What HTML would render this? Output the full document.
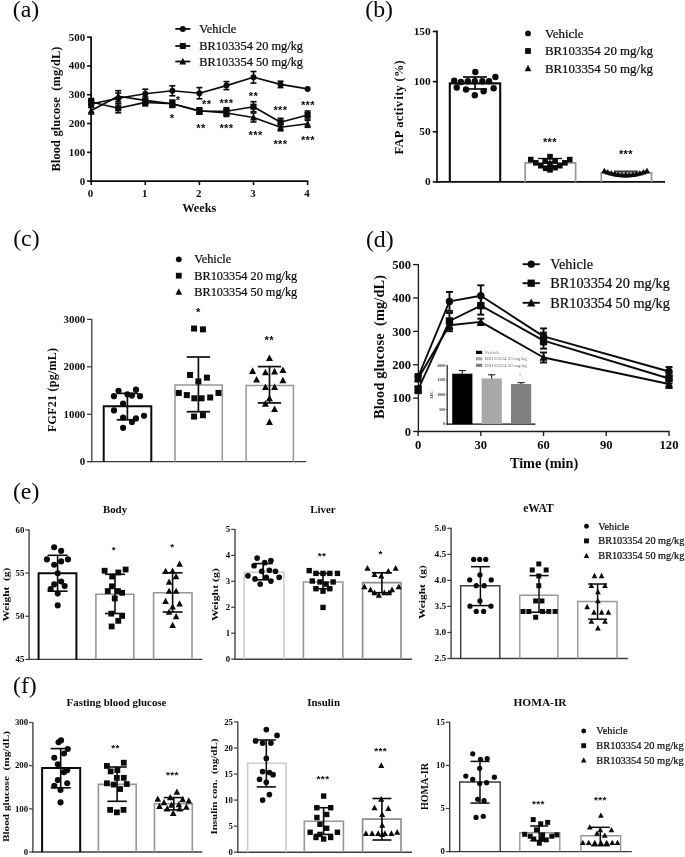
<!DOCTYPE html>
<html lang="en">
<head>
<meta charset="utf-8">
<title>Figure</title>
<style>
html,body{margin:0;padding:0;background:#ffffff;}
body{width:685px;height:857px;overflow:hidden;font-family:"Liberation Serif",serif;}
svg{display:block;font-family:"Liberation Serif",serif;filter:blur(0.45px);}
svg text{fill:#0b0b0b;}
</style>
</head>
<body>
<svg width="685" height="857" viewBox="0 0 685 857">
<rect x="0" y="0" width="685" height="857" fill="#ffffff"/>
<text x="12.8" y="17.24" font-size="23.8">(a)</text>
<text x="365.3" y="16.74" font-size="23.8">(b)</text>
<text x="13.2" y="246.24" font-size="23.8">(c)</text>
<text x="365.9" y="246.74" font-size="23.8">(d)</text>
<text x="12.9" y="498.54" font-size="23.8">(e)</text>
<text x="13" y="692.84" font-size="23.8">(f)</text>
<line x1="91.1" y1="36.4" x2="91.1" y2="182" stroke="#0b0b0b" stroke-width="1.75" stroke-linecap="butt"/>
<line x1="90.3" y1="181.1" x2="308.4" y2="181.1" stroke="#0b0b0b" stroke-width="1.8" stroke-linecap="butt"/>
<line x1="87.1" y1="181.1" x2="91.1" y2="181.1" stroke="#0b0b0b" stroke-width="1.6" stroke-linecap="butt"/>
<text x="85.1" y="184.5" font-size="10.9" font-weight="bold" text-anchor="end">0</text>
<line x1="87.1" y1="152.32" x2="91.1" y2="152.32" stroke="#0b0b0b" stroke-width="1.6" stroke-linecap="butt"/>
<text x="85.1" y="155.72" font-size="10.9" font-weight="bold" text-anchor="end">100</text>
<line x1="87.1" y1="123.54" x2="91.1" y2="123.54" stroke="#0b0b0b" stroke-width="1.6" stroke-linecap="butt"/>
<text x="85.1" y="126.94" font-size="10.9" font-weight="bold" text-anchor="end">200</text>
<line x1="87.1" y1="94.76" x2="91.1" y2="94.76" stroke="#0b0b0b" stroke-width="1.6" stroke-linecap="butt"/>
<text x="85.1" y="98.16" font-size="10.9" font-weight="bold" text-anchor="end">300</text>
<line x1="87.1" y1="65.98" x2="91.1" y2="65.98" stroke="#0b0b0b" stroke-width="1.6" stroke-linecap="butt"/>
<text x="85.1" y="69.38" font-size="10.9" font-weight="bold" text-anchor="end">400</text>
<line x1="87.1" y1="37.2" x2="91.1" y2="37.2" stroke="#0b0b0b" stroke-width="1.6" stroke-linecap="butt"/>
<text x="85.1" y="40.6" font-size="10.9" font-weight="bold" text-anchor="end">500</text>
<line x1="91.2" y1="181.1" x2="91.2" y2="185.1" stroke="#0b0b0b" stroke-width="1.6" stroke-linecap="butt"/>
<text x="90.6" y="196.6" font-size="10.9" font-weight="bold" text-anchor="middle">0</text>
<line x1="145.3" y1="181.1" x2="145.3" y2="185.1" stroke="#0b0b0b" stroke-width="1.6" stroke-linecap="butt"/>
<text x="144.7" y="196.6" font-size="10.9" font-weight="bold" text-anchor="middle">1</text>
<line x1="199.4" y1="181.1" x2="199.4" y2="185.1" stroke="#0b0b0b" stroke-width="1.6" stroke-linecap="butt"/>
<text x="198.8" y="196.6" font-size="10.9" font-weight="bold" text-anchor="middle">2</text>
<line x1="253.5" y1="181.1" x2="253.5" y2="185.1" stroke="#0b0b0b" stroke-width="1.6" stroke-linecap="butt"/>
<text x="252.9" y="196.6" font-size="10.9" font-weight="bold" text-anchor="middle">3</text>
<line x1="307.6" y1="181.1" x2="307.6" y2="185.1" stroke="#0b0b0b" stroke-width="1.6" stroke-linecap="butt"/>
<text x="307" y="196.6" font-size="10.9" font-weight="bold" text-anchor="middle">4</text>
<text x="199.3" y="212.36" font-size="12.3" font-weight="bold" text-anchor="middle">Weeks</text>
<text transform="translate(56.4 109) rotate(-90)" x="0" y="4.09" font-size="12.4" font-weight="bold" text-anchor="middle" textLength="125" lengthAdjust="spacing">Blood glucose &#160;(mg/dL)</text>
<polyline points="91.2,104 118.25,98.3 145.3,93.8 172.35,90.8 199.4,93.2 226.45,85.6 253.5,77.3 280.55,84.4 307.6,88.9" fill="none" stroke="#0b0b0b" stroke-width="1.65" stroke-linejoin="round"/>
<line x1="91.2" y1="100.5" x2="91.2" y2="107.5" stroke="#0b0b0b" stroke-width="1.6" stroke-linecap="butt"/>
<line x1="88.2" y1="100.5" x2="94.2" y2="100.5" stroke="#0b0b0b" stroke-width="1.6" stroke-linecap="butt"/>
<line x1="88.2" y1="107.5" x2="94.2" y2="107.5" stroke="#0b0b0b" stroke-width="1.6" stroke-linecap="butt"/>
<circle cx="91.2" cy="104" r="3" fill="#0b0b0b"/>
<line x1="118.25" y1="93.1" x2="118.25" y2="103.5" stroke="#0b0b0b" stroke-width="1.6" stroke-linecap="butt"/>
<line x1="115.25" y1="93.1" x2="121.25" y2="93.1" stroke="#0b0b0b" stroke-width="1.6" stroke-linecap="butt"/>
<line x1="115.25" y1="103.5" x2="121.25" y2="103.5" stroke="#0b0b0b" stroke-width="1.6" stroke-linecap="butt"/>
<circle cx="118.25" cy="98.3" r="3" fill="#0b0b0b"/>
<line x1="145.3" y1="89.2" x2="145.3" y2="98.4" stroke="#0b0b0b" stroke-width="1.6" stroke-linecap="butt"/>
<line x1="142.3" y1="89.2" x2="148.3" y2="89.2" stroke="#0b0b0b" stroke-width="1.6" stroke-linecap="butt"/>
<line x1="142.3" y1="98.4" x2="148.3" y2="98.4" stroke="#0b0b0b" stroke-width="1.6" stroke-linecap="butt"/>
<circle cx="145.3" cy="93.8" r="3" fill="#0b0b0b"/>
<line x1="172.35" y1="85.8" x2="172.35" y2="95.8" stroke="#0b0b0b" stroke-width="1.6" stroke-linecap="butt"/>
<line x1="169.35" y1="85.8" x2="175.35" y2="85.8" stroke="#0b0b0b" stroke-width="1.6" stroke-linecap="butt"/>
<line x1="169.35" y1="95.8" x2="175.35" y2="95.8" stroke="#0b0b0b" stroke-width="1.6" stroke-linecap="butt"/>
<circle cx="172.35" cy="90.8" r="3" fill="#0b0b0b"/>
<line x1="199.4" y1="87.6" x2="199.4" y2="98.8" stroke="#0b0b0b" stroke-width="1.6" stroke-linecap="butt"/>
<line x1="196.4" y1="87.6" x2="202.4" y2="87.6" stroke="#0b0b0b" stroke-width="1.6" stroke-linecap="butt"/>
<line x1="196.4" y1="98.8" x2="202.4" y2="98.8" stroke="#0b0b0b" stroke-width="1.6" stroke-linecap="butt"/>
<circle cx="199.4" cy="93.2" r="3" fill="#0b0b0b"/>
<line x1="226.45" y1="81.6" x2="226.45" y2="89.6" stroke="#0b0b0b" stroke-width="1.6" stroke-linecap="butt"/>
<line x1="223.45" y1="81.6" x2="229.45" y2="81.6" stroke="#0b0b0b" stroke-width="1.6" stroke-linecap="butt"/>
<line x1="223.45" y1="89.6" x2="229.45" y2="89.6" stroke="#0b0b0b" stroke-width="1.6" stroke-linecap="butt"/>
<circle cx="226.45" cy="85.6" r="3" fill="#0b0b0b"/>
<line x1="253.5" y1="71.5" x2="253.5" y2="83.1" stroke="#0b0b0b" stroke-width="1.6" stroke-linecap="butt"/>
<line x1="250.5" y1="71.5" x2="256.5" y2="71.5" stroke="#0b0b0b" stroke-width="1.6" stroke-linecap="butt"/>
<line x1="250.5" y1="83.1" x2="256.5" y2="83.1" stroke="#0b0b0b" stroke-width="1.6" stroke-linecap="butt"/>
<circle cx="253.5" cy="77.3" r="3" fill="#0b0b0b"/>
<line x1="280.55" y1="81.2" x2="280.55" y2="87.6" stroke="#0b0b0b" stroke-width="1.6" stroke-linecap="butt"/>
<line x1="277.55" y1="81.2" x2="283.55" y2="81.2" stroke="#0b0b0b" stroke-width="1.6" stroke-linecap="butt"/>
<line x1="277.55" y1="87.6" x2="283.55" y2="87.6" stroke="#0b0b0b" stroke-width="1.6" stroke-linecap="butt"/>
<circle cx="280.55" cy="84.4" r="3" fill="#0b0b0b"/>
<circle cx="307.6" cy="88.9" r="3" fill="#0b0b0b"/>
<polyline points="91.2,102 118.25,108.3 145.3,102.4 172.35,103.8 199.4,111.2 226.45,111.2 253.5,106.7 280.55,122.3 307.6,115" fill="none" stroke="#0b0b0b" stroke-width="1.65" stroke-linejoin="round"/>
<line x1="91.2" y1="98.5" x2="91.2" y2="105.5" stroke="#0b0b0b" stroke-width="1.6" stroke-linecap="butt"/>
<line x1="88.2" y1="98.5" x2="94.2" y2="98.5" stroke="#0b0b0b" stroke-width="1.6" stroke-linecap="butt"/>
<line x1="88.2" y1="105.5" x2="94.2" y2="105.5" stroke="#0b0b0b" stroke-width="1.6" stroke-linecap="butt"/>
<rect x="88.1" y="98.9" width="6.2" height="6.2" fill="#0b0b0b"/>
<line x1="118.25" y1="103.8" x2="118.25" y2="112.8" stroke="#0b0b0b" stroke-width="1.6" stroke-linecap="butt"/>
<line x1="115.25" y1="103.8" x2="121.25" y2="103.8" stroke="#0b0b0b" stroke-width="1.6" stroke-linecap="butt"/>
<line x1="115.25" y1="112.8" x2="121.25" y2="112.8" stroke="#0b0b0b" stroke-width="1.6" stroke-linecap="butt"/>
<rect x="115.15" y="105.2" width="6.2" height="6.2" fill="#0b0b0b"/>
<line x1="145.3" y1="98.9" x2="145.3" y2="105.9" stroke="#0b0b0b" stroke-width="1.6" stroke-linecap="butt"/>
<line x1="142.3" y1="98.9" x2="148.3" y2="98.9" stroke="#0b0b0b" stroke-width="1.6" stroke-linecap="butt"/>
<line x1="142.3" y1="105.9" x2="148.3" y2="105.9" stroke="#0b0b0b" stroke-width="1.6" stroke-linecap="butt"/>
<rect x="142.2" y="99.3" width="6.2" height="6.2" fill="#0b0b0b"/>
<line x1="172.35" y1="100.3" x2="172.35" y2="107.3" stroke="#0b0b0b" stroke-width="1.6" stroke-linecap="butt"/>
<line x1="169.35" y1="100.3" x2="175.35" y2="100.3" stroke="#0b0b0b" stroke-width="1.6" stroke-linecap="butt"/>
<line x1="169.35" y1="107.3" x2="175.35" y2="107.3" stroke="#0b0b0b" stroke-width="1.6" stroke-linecap="butt"/>
<rect x="169.25" y="100.7" width="6.2" height="6.2" fill="#0b0b0b"/>
<line x1="199.4" y1="108.2" x2="199.4" y2="114.2" stroke="#0b0b0b" stroke-width="1.6" stroke-linecap="butt"/>
<line x1="196.4" y1="108.2" x2="202.4" y2="108.2" stroke="#0b0b0b" stroke-width="1.6" stroke-linecap="butt"/>
<line x1="196.4" y1="114.2" x2="202.4" y2="114.2" stroke="#0b0b0b" stroke-width="1.6" stroke-linecap="butt"/>
<rect x="196.3" y="108.1" width="6.2" height="6.2" fill="#0b0b0b"/>
<line x1="226.45" y1="107.7" x2="226.45" y2="114.7" stroke="#0b0b0b" stroke-width="1.6" stroke-linecap="butt"/>
<line x1="223.45" y1="107.7" x2="229.45" y2="107.7" stroke="#0b0b0b" stroke-width="1.6" stroke-linecap="butt"/>
<line x1="223.45" y1="114.7" x2="229.45" y2="114.7" stroke="#0b0b0b" stroke-width="1.6" stroke-linecap="butt"/>
<rect x="223.35" y="108.1" width="6.2" height="6.2" fill="#0b0b0b"/>
<line x1="253.5" y1="101.7" x2="253.5" y2="111.7" stroke="#0b0b0b" stroke-width="1.6" stroke-linecap="butt"/>
<line x1="250.5" y1="101.7" x2="256.5" y2="101.7" stroke="#0b0b0b" stroke-width="1.6" stroke-linecap="butt"/>
<line x1="250.5" y1="111.7" x2="256.5" y2="111.7" stroke="#0b0b0b" stroke-width="1.6" stroke-linecap="butt"/>
<rect x="250.4" y="103.6" width="6.2" height="6.2" fill="#0b0b0b"/>
<line x1="280.55" y1="118.3" x2="280.55" y2="126.3" stroke="#0b0b0b" stroke-width="1.6" stroke-linecap="butt"/>
<line x1="277.55" y1="118.3" x2="283.55" y2="118.3" stroke="#0b0b0b" stroke-width="1.6" stroke-linecap="butt"/>
<line x1="277.55" y1="126.3" x2="283.55" y2="126.3" stroke="#0b0b0b" stroke-width="1.6" stroke-linecap="butt"/>
<rect x="277.45" y="119.2" width="6.2" height="6.2" fill="#0b0b0b"/>
<line x1="307.6" y1="111" x2="307.6" y2="119" stroke="#0b0b0b" stroke-width="1.6" stroke-linecap="butt"/>
<line x1="304.6" y1="111" x2="310.6" y2="111" stroke="#0b0b0b" stroke-width="1.6" stroke-linecap="butt"/>
<line x1="304.6" y1="119" x2="310.6" y2="119" stroke="#0b0b0b" stroke-width="1.6" stroke-linecap="butt"/>
<rect x="304.5" y="111.9" width="6.2" height="6.2" fill="#0b0b0b"/>
<polyline points="91.2,110.5 118.25,96.2 145.3,100.4 172.35,103.8 199.4,110.8 226.45,113 253.5,117.5 280.55,127.3 307.6,123.8" fill="none" stroke="#0b0b0b" stroke-width="1.65" stroke-linejoin="round"/>
<line x1="91.2" y1="107" x2="91.2" y2="114" stroke="#0b0b0b" stroke-width="1.6" stroke-linecap="butt"/>
<line x1="88.2" y1="107" x2="94.2" y2="107" stroke="#0b0b0b" stroke-width="1.6" stroke-linecap="butt"/>
<line x1="88.2" y1="114" x2="94.2" y2="114" stroke="#0b0b0b" stroke-width="1.6" stroke-linecap="butt"/>
<path d="M91.2 106.87L94.7 113.47L87.7 113.47Z" fill="#0b0b0b"/>
<line x1="118.25" y1="90.7" x2="118.25" y2="101.7" stroke="#0b0b0b" stroke-width="1.6" stroke-linecap="butt"/>
<line x1="115.25" y1="90.7" x2="121.25" y2="90.7" stroke="#0b0b0b" stroke-width="1.6" stroke-linecap="butt"/>
<line x1="115.25" y1="101.7" x2="121.25" y2="101.7" stroke="#0b0b0b" stroke-width="1.6" stroke-linecap="butt"/>
<path d="M118.25 92.57L121.75 99.17L114.75 99.17Z" fill="#0b0b0b"/>
<line x1="145.3" y1="96.9" x2="145.3" y2="103.9" stroke="#0b0b0b" stroke-width="1.6" stroke-linecap="butt"/>
<line x1="142.3" y1="96.9" x2="148.3" y2="96.9" stroke="#0b0b0b" stroke-width="1.6" stroke-linecap="butt"/>
<line x1="142.3" y1="103.9" x2="148.3" y2="103.9" stroke="#0b0b0b" stroke-width="1.6" stroke-linecap="butt"/>
<path d="M145.3 96.77L148.8 103.37L141.8 103.37Z" fill="#0b0b0b"/>
<line x1="172.35" y1="100.3" x2="172.35" y2="107.3" stroke="#0b0b0b" stroke-width="1.6" stroke-linecap="butt"/>
<line x1="169.35" y1="100.3" x2="175.35" y2="100.3" stroke="#0b0b0b" stroke-width="1.6" stroke-linecap="butt"/>
<line x1="169.35" y1="107.3" x2="175.35" y2="107.3" stroke="#0b0b0b" stroke-width="1.6" stroke-linecap="butt"/>
<path d="M172.35 100.17L175.85 106.77L168.85 106.77Z" fill="#0b0b0b"/>
<line x1="199.4" y1="107.8" x2="199.4" y2="113.8" stroke="#0b0b0b" stroke-width="1.6" stroke-linecap="butt"/>
<line x1="196.4" y1="107.8" x2="202.4" y2="107.8" stroke="#0b0b0b" stroke-width="1.6" stroke-linecap="butt"/>
<line x1="196.4" y1="113.8" x2="202.4" y2="113.8" stroke="#0b0b0b" stroke-width="1.6" stroke-linecap="butt"/>
<path d="M199.4 107.17L202.9 113.77L195.9 113.77Z" fill="#0b0b0b"/>
<line x1="226.45" y1="109.5" x2="226.45" y2="116.5" stroke="#0b0b0b" stroke-width="1.6" stroke-linecap="butt"/>
<line x1="223.45" y1="109.5" x2="229.45" y2="109.5" stroke="#0b0b0b" stroke-width="1.6" stroke-linecap="butt"/>
<line x1="223.45" y1="116.5" x2="229.45" y2="116.5" stroke="#0b0b0b" stroke-width="1.6" stroke-linecap="butt"/>
<path d="M226.45 109.37L229.95 115.97L222.95 115.97Z" fill="#0b0b0b"/>
<line x1="253.5" y1="113" x2="253.5" y2="122" stroke="#0b0b0b" stroke-width="1.6" stroke-linecap="butt"/>
<line x1="250.5" y1="113" x2="256.5" y2="113" stroke="#0b0b0b" stroke-width="1.6" stroke-linecap="butt"/>
<line x1="250.5" y1="122" x2="256.5" y2="122" stroke="#0b0b0b" stroke-width="1.6" stroke-linecap="butt"/>
<path d="M253.5 113.87L257 120.47L250 120.47Z" fill="#0b0b0b"/>
<line x1="280.55" y1="123.8" x2="280.55" y2="130.8" stroke="#0b0b0b" stroke-width="1.6" stroke-linecap="butt"/>
<line x1="277.55" y1="123.8" x2="283.55" y2="123.8" stroke="#0b0b0b" stroke-width="1.6" stroke-linecap="butt"/>
<line x1="277.55" y1="130.8" x2="283.55" y2="130.8" stroke="#0b0b0b" stroke-width="1.6" stroke-linecap="butt"/>
<path d="M280.55 123.67L284.05 130.27L277.05 130.27Z" fill="#0b0b0b"/>
<line x1="307.6" y1="120.3" x2="307.6" y2="127.3" stroke="#0b0b0b" stroke-width="1.6" stroke-linecap="butt"/>
<line x1="304.6" y1="120.3" x2="310.6" y2="120.3" stroke="#0b0b0b" stroke-width="1.6" stroke-linecap="butt"/>
<line x1="304.6" y1="127.3" x2="310.6" y2="127.3" stroke="#0b0b0b" stroke-width="1.6" stroke-linecap="butt"/>
<path d="M307.6 120.17L311.1 126.77L304.1 126.77Z" fill="#0b0b0b"/>
<text x="178" y="104.01" font-family="Liberation Sans, sans-serif" font-size="11.14" font-weight="bold" text-anchor="middle" letter-spacing="0.4">*</text>
<text x="172" y="122.11" font-family="Liberation Sans, sans-serif" font-size="11.14" font-weight="bold" text-anchor="middle" letter-spacing="0.4">*</text>
<text x="206.7" y="108.31" font-family="Liberation Sans, sans-serif" font-size="11.14" font-weight="bold" text-anchor="middle" letter-spacing="0.4">**</text>
<text x="201" y="132.11" font-family="Liberation Sans, sans-serif" font-size="11.14" font-weight="bold" text-anchor="middle" letter-spacing="0.4">**</text>
<text x="226.5" y="106.51" font-family="Liberation Sans, sans-serif" font-size="11.14" font-weight="bold" text-anchor="middle" letter-spacing="0.4">***</text>
<text x="226.5" y="131.61" font-family="Liberation Sans, sans-serif" font-size="11.14" font-weight="bold" text-anchor="middle" letter-spacing="0.4">***</text>
<text x="253.6" y="99.71" font-family="Liberation Sans, sans-serif" font-size="11.14" font-weight="bold" text-anchor="middle" letter-spacing="0.4">**</text>
<text x="255.6" y="138.61" font-family="Liberation Sans, sans-serif" font-size="11.14" font-weight="bold" text-anchor="middle" letter-spacing="0.4">***</text>
<text x="280.5" y="114.31" font-family="Liberation Sans, sans-serif" font-size="11.14" font-weight="bold" text-anchor="middle" letter-spacing="0.4">***</text>
<text x="280.5" y="147.71" font-family="Liberation Sans, sans-serif" font-size="11.14" font-weight="bold" text-anchor="middle" letter-spacing="0.4">***</text>
<text x="308" y="108.81" font-family="Liberation Sans, sans-serif" font-size="11.14" font-weight="bold" text-anchor="middle" letter-spacing="0.4">***</text>
<text x="308" y="143.71" font-family="Liberation Sans, sans-serif" font-size="11.14" font-weight="bold" text-anchor="middle" letter-spacing="0.4">***</text>
<line x1="175.3" y1="28.9" x2="190.3" y2="28.9" stroke="#0b0b0b" stroke-width="1.8" stroke-linecap="butt"/>
<circle cx="182.8" cy="28.9" r="2.99" fill="#0b0b0b"/>
<text x="199.3" y="32.98" font-size="12.37" stroke="#0b0b0b" stroke-width="0.22">Vehicle</text>
<line x1="175.3" y1="46" x2="190.3" y2="46" stroke="#0b0b0b" stroke-width="1.8" stroke-linecap="butt"/>
<rect x="179.81" y="43.01" width="5.97" height="5.97" fill="#0b0b0b"/>
<text x="199.3" y="50.08" font-size="12.37" stroke="#0b0b0b" stroke-width="0.22">BR103354 20 mg/kg</text>
<line x1="175.3" y1="61.5" x2="190.3" y2="61.5" stroke="#0b0b0b" stroke-width="1.8" stroke-linecap="butt"/>
<path d="M182.8 57.87L186.2 64.47L179.4 64.47Z" fill="#0b0b0b"/>
<text x="199.3" y="65.58" font-size="12.37" stroke="#0b0b0b" stroke-width="0.22">BR103354 50 mg/kg</text>
<line x1="437" y1="30.6" x2="437" y2="182.7" stroke="#0b0b0b" stroke-width="1.7" stroke-linecap="butt"/>
<line x1="436.2" y1="181.9" x2="665" y2="181.9" stroke="#0b0b0b" stroke-width="1.7" stroke-linecap="butt"/>
<line x1="432.8" y1="181.9" x2="437" y2="181.9" stroke="#0b0b0b" stroke-width="1.6" stroke-linecap="butt"/>
<text x="430.6" y="185.33" font-size="11.3" font-weight="bold" text-anchor="end">0</text>
<line x1="432.8" y1="131.77" x2="437" y2="131.77" stroke="#0b0b0b" stroke-width="1.6" stroke-linecap="butt"/>
<text x="430.6" y="135.19" font-size="11.3" font-weight="bold" text-anchor="end">50</text>
<line x1="432.8" y1="81.63" x2="437" y2="81.63" stroke="#0b0b0b" stroke-width="1.6" stroke-linecap="butt"/>
<text x="430.6" y="85.06" font-size="11.3" font-weight="bold" text-anchor="end">100</text>
<line x1="432.8" y1="31.5" x2="437" y2="31.5" stroke="#0b0b0b" stroke-width="1.6" stroke-linecap="butt"/>
<text x="430.6" y="34.92" font-size="11.3" font-weight="bold" text-anchor="end">150</text>
<text transform="translate(398.9 107.4) rotate(-90)" x="0" y="4.06" font-size="12.3" font-weight="bold" text-anchor="middle" textLength="94" lengthAdjust="spacing">FAP activ&#8202;ity (%)</text>
<path d="M449.8 181.9V83.4H500.2V181.9" fill="none" stroke="#0b0b0b" stroke-width="2.1"/>
<path d="M525.2 181.9V162.8H575.6V181.9" fill="none" stroke="#979797" stroke-width="1.7"/>
<path d="M601.3 181.9V172.8H651.6V181.9" fill="none" stroke="#979797" stroke-width="1.7"/>
<line x1="475" y1="77" x2="475" y2="89" stroke="#0b0b0b" stroke-width="1.7" stroke-linecap="butt"/>
<line x1="463" y1="77" x2="487" y2="77" stroke="#0b0b0b" stroke-width="1.7" stroke-linecap="butt"/>
<line x1="463" y1="89" x2="487" y2="89" stroke="#0b0b0b" stroke-width="1.7" stroke-linecap="butt"/>
<circle cx="475.31" cy="71.95" r="3.2" fill="#0b0b0b"/>
<circle cx="454.22" cy="80.74" r="3.2" fill="#0b0b0b"/>
<circle cx="495.4" cy="76.98" r="3.2" fill="#0b0b0b"/>
<circle cx="461" cy="82" r="3.2" fill="#0b0b0b"/>
<circle cx="467.78" cy="81.24" r="3.2" fill="#0b0b0b"/>
<circle cx="474.81" cy="81.24" r="3.2" fill="#0b0b0b"/>
<circle cx="482.34" cy="81.24" r="3.2" fill="#0b0b0b"/>
<circle cx="489.12" cy="81.24" r="3.2" fill="#0b0b0b"/>
<circle cx="456.73" cy="87.52" r="3.2" fill="#0b0b0b"/>
<circle cx="493.64" cy="88.27" r="3.2" fill="#0b0b0b"/>
<circle cx="466.02" cy="89.53" r="3.2" fill="#0b0b0b"/>
<circle cx="483.6" cy="91.29" r="3.2" fill="#0b0b0b"/>
<circle cx="474.81" cy="95.3" r="3.2" fill="#0b0b0b"/>
<line x1="550" y1="158.5" x2="550" y2="166.5" stroke="#0b0b0b" stroke-width="1.3" stroke-linecap="butt"/>
<line x1="538" y1="158.5" x2="562" y2="158.5" stroke="#0b0b0b" stroke-width="1.3" stroke-linecap="butt"/>
<line x1="538" y1="166.5" x2="562" y2="166.5" stroke="#0b0b0b" stroke-width="1.3" stroke-linecap="butt"/>
<rect x="527.97" y="156.76" width="5.6" height="5.6" fill="#0b0b0b"/>
<rect x="566.94" y="156.76" width="5.6" height="5.6" fill="#0b0b0b"/>
<rect x="533" y="160.04" width="5.6" height="5.6" fill="#0b0b0b"/>
<rect x="562.12" y="160.04" width="5.6" height="5.6" fill="#0b0b0b"/>
<rect x="538.04" y="162.89" width="5.6" height="5.6" fill="#0b0b0b"/>
<rect x="557.09" y="162.89" width="5.6" height="5.6" fill="#0b0b0b"/>
<rect x="542.85" y="165.52" width="5.6" height="5.6" fill="#0b0b0b"/>
<rect x="552.27" y="164.86" width="5.6" height="5.6" fill="#0b0b0b"/>
<rect x="547.23" y="167.05" width="5.6" height="5.6" fill="#0b0b0b"/>
<rect x="547.23" y="153.91" width="5.6" height="5.6" fill="#0b0b0b"/>
<rect x="542.42" y="158.29" width="5.6" height="5.6" fill="#0b0b0b"/>
<rect x="552.27" y="158.29" width="5.6" height="5.6" fill="#0b0b0b"/>
<rect x="547.23" y="161.14" width="5.6" height="5.6" fill="#0b0b0b"/>
<line x1="626" y1="171.2" x2="626" y2="175" stroke="#0b0b0b" stroke-width="1.2" stroke-linecap="butt"/>
<line x1="614" y1="171.2" x2="638" y2="171.2" stroke="#0b0b0b" stroke-width="1.2" stroke-linecap="butt"/>
<line x1="614" y1="175" x2="638" y2="175" stroke="#0b0b0b" stroke-width="1.2" stroke-linecap="butt"/>
<polyline points="604.34,171.71 607.84,172.95 611.34,173.96 614.85,174.75 618.35,175.32 621.85,175.66 625.58,175.79 629.3,175.66 632.8,175.32 636.31,174.75 639.81,173.96 643.31,172.95 647.03,171.63" fill="none" stroke="#0b0b0b" stroke-width="3.4" stroke-linejoin="round"/>
<path d="M604.34 167.73L607.44 173.33L601.24 173.33Z" fill="#0b0b0b"/>
<path d="M607.84 168.97L610.94 174.57L604.74 174.57Z" fill="#0b0b0b"/>
<path d="M611.34 169.98L614.44 175.58L608.24 175.58Z" fill="#0b0b0b"/>
<path d="M614.85 170.77L617.95 176.37L611.75 176.37Z" fill="#0b0b0b"/>
<path d="M618.35 171.34L621.45 176.94L615.25 176.94Z" fill="#0b0b0b"/>
<path d="M621.85 171.68L624.95 177.28L618.75 177.28Z" fill="#0b0b0b"/>
<path d="M625.58 171.81L628.68 177.41L622.48 177.41Z" fill="#0b0b0b"/>
<path d="M629.3 171.68L632.4 177.28L626.2 177.28Z" fill="#0b0b0b"/>
<path d="M632.8 171.34L635.9 176.94L629.7 176.94Z" fill="#0b0b0b"/>
<path d="M636.31 170.77L639.41 176.37L633.21 176.37Z" fill="#0b0b0b"/>
<path d="M639.81 169.98L642.91 175.58L636.71 175.58Z" fill="#0b0b0b"/>
<path d="M643.31 168.97L646.41 174.57L640.21 174.57Z" fill="#0b0b0b"/>
<path d="M647.03 167.65L650.13 173.25L643.93 173.25Z" fill="#0b0b0b"/>
<text x="550" y="145.81" font-family="Liberation Sans, sans-serif" font-size="11.14" font-weight="bold" text-anchor="middle" letter-spacing="0.4">***</text>
<text x="626" y="157.81" font-family="Liberation Sans, sans-serif" font-size="11.14" font-weight="bold" text-anchor="middle" letter-spacing="0.4">***</text>
<circle cx="528" cy="33.4" r="2.9" fill="#0b0b0b"/>
<text x="544.9" y="37.66" font-size="12.9" stroke="#0b0b0b" stroke-width="0.22">Vehicle</text>
<rect x="525.1" y="48.1" width="5.8" height="5.8" fill="#0b0b0b"/>
<text x="544.9" y="55.26" font-size="12.9" stroke="#0b0b0b" stroke-width="0.22">BR103354 20 mg/kg</text>
<path d="M528 64.78L531.3 71.18L524.7 71.18Z" fill="#0b0b0b"/>
<text x="544.9" y="72.56" font-size="12.9" stroke="#0b0b0b" stroke-width="0.22">BR103354 50 mg/kg</text>
<line x1="91.8" y1="318.9" x2="91.8" y2="462.3" stroke="#3a3a3a" stroke-width="1.3" stroke-linecap="butt"/>
<line x1="91.2" y1="461.7" x2="306.2" y2="461.7" stroke="#3a3a3a" stroke-width="1.3" stroke-linecap="butt"/>
<line x1="87" y1="461.7" x2="91.8" y2="461.7" stroke="#3a3a3a" stroke-width="1.25" stroke-linecap="butt"/>
<text x="85.2" y="465.26" font-size="10.8" font-weight="bold" text-anchor="end">0</text>
<line x1="87" y1="414.25" x2="91.8" y2="414.25" stroke="#3a3a3a" stroke-width="1.25" stroke-linecap="butt"/>
<text x="85.2" y="417.81" font-size="10.8" font-weight="bold" text-anchor="end">1000</text>
<line x1="87" y1="366.8" x2="91.8" y2="366.8" stroke="#3a3a3a" stroke-width="1.25" stroke-linecap="butt"/>
<text x="85.2" y="370.36" font-size="10.8" font-weight="bold" text-anchor="end">2000</text>
<line x1="87" y1="319.35" x2="91.8" y2="319.35" stroke="#3a3a3a" stroke-width="1.25" stroke-linecap="butt"/>
<text x="85.2" y="322.91" font-size="10.8" font-weight="bold" text-anchor="end">3000</text>
<text transform="translate(52.3 390) rotate(-90)" x="0" y="3.96" font-size="12" font-weight="bold" text-anchor="middle" textLength="84" lengthAdjust="spacing">FGF21 (pg/mL)</text>
<path d="M103.7 461.7V406.3H151.3V461.7" fill="none" stroke="#0b0b0b" stroke-width="2"/>
<path d="M175 461.7V384.9H222.3V461.7" fill="none" stroke="#979797" stroke-width="1.5"/>
<path d="M246.1 461.7V385.4H293.4V461.7" fill="none" stroke="#979797" stroke-width="1.5"/>
<line x1="127.4" y1="393.4" x2="127.4" y2="419.8" stroke="#0b0b0b" stroke-width="1.7" stroke-linecap="butt"/>
<line x1="116.7" y1="393.4" x2="138.1" y2="393.4" stroke="#0b0b0b" stroke-width="1.7" stroke-linecap="butt"/>
<line x1="116.7" y1="419.8" x2="138.1" y2="419.8" stroke="#0b0b0b" stroke-width="1.7" stroke-linecap="butt"/>
<circle cx="118.54" cy="390.79" r="3.1" fill="#0b0b0b"/>
<circle cx="127.4" cy="394.28" r="3.1" fill="#0b0b0b"/>
<circle cx="135.98" cy="389.72" r="3.1" fill="#0b0b0b"/>
<circle cx="113.98" cy="396.16" r="3.1" fill="#0b0b0b"/>
<circle cx="131.96" cy="395.62" r="3.1" fill="#0b0b0b"/>
<circle cx="140.01" cy="396.16" r="3.1" fill="#0b0b0b"/>
<circle cx="123.1" cy="403.67" r="3.1" fill="#0b0b0b"/>
<circle cx="113.98" cy="410.38" r="3.1" fill="#0b0b0b"/>
<circle cx="144.03" cy="415.74" r="3.1" fill="#0b0b0b"/>
<circle cx="123.1" cy="417.62" r="3.1" fill="#0b0b0b"/>
<circle cx="135.98" cy="418.43" r="3.1" fill="#0b0b0b"/>
<circle cx="131.96" cy="421.92" r="3.1" fill="#0b0b0b"/>
<circle cx="123.1" cy="427.82" r="3.1" fill="#0b0b0b"/>
<line x1="198.4" y1="357" x2="198.4" y2="411.7" stroke="#0b0b0b" stroke-width="1.7" stroke-linecap="butt"/>
<line x1="186.7" y1="357" x2="210.1" y2="357" stroke="#0b0b0b" stroke-width="1.7" stroke-linecap="butt"/>
<line x1="186.7" y1="411.7" x2="210.1" y2="411.7" stroke="#0b0b0b" stroke-width="1.7" stroke-linecap="butt"/>
<rect x="191.08" y="325.54" width="6" height="6" fill="#0b0b0b"/>
<rect x="199.93" y="326.35" width="6" height="6" fill="#0b0b0b"/>
<rect x="187.05" y="371.96" width="6" height="6" fill="#0b0b0b"/>
<rect x="203.95" y="374.64" width="6" height="6" fill="#0b0b0b"/>
<rect x="195.37" y="378.4" width="6" height="6" fill="#0b0b0b"/>
<rect x="175.78" y="389.94" width="6" height="6" fill="#0b0b0b"/>
<rect x="215.49" y="389.94" width="6" height="6" fill="#0b0b0b"/>
<rect x="183.83" y="392.08" width="6" height="6" fill="#0b0b0b"/>
<rect x="191.34" y="395.3" width="6" height="6" fill="#0b0b0b"/>
<rect x="198.59" y="395.3" width="6" height="6" fill="#0b0b0b"/>
<rect x="207.17" y="394.5" width="6" height="6" fill="#0b0b0b"/>
<rect x="191.08" y="413.55" width="6" height="6" fill="#0b0b0b"/>
<rect x="199.93" y="412.21" width="6" height="6" fill="#0b0b0b"/>
<line x1="269.5" y1="366.6" x2="269.5" y2="402.9" stroke="#0b0b0b" stroke-width="1.7" stroke-linecap="butt"/>
<line x1="257.8" y1="366.6" x2="281.2" y2="366.6" stroke="#0b0b0b" stroke-width="1.7" stroke-linecap="butt"/>
<line x1="257.8" y1="402.9" x2="281.2" y2="402.9" stroke="#0b0b0b" stroke-width="1.7" stroke-linecap="butt"/>
<path d="M269.47 354.43L272.97 361.03L265.97 361.03Z" fill="#0b0b0b"/>
<path d="M252.57 367.31L256.07 373.91L249.07 373.91Z" fill="#0b0b0b"/>
<path d="M282.89 366.5L286.39 373.1L279.39 373.1Z" fill="#0b0b0b"/>
<path d="M265.45 368.65L268.95 375.25L261.95 375.25Z" fill="#0b0b0b"/>
<path d="M274.57 367.84L278.07 374.44L271.07 374.44Z" fill="#0b0b0b"/>
<path d="M256.59 375.89L260.09 382.49L253.09 382.49Z" fill="#0b0b0b"/>
<path d="M282.89 376.7L286.39 383.3L279.39 383.3Z" fill="#0b0b0b"/>
<path d="M265.45 383.41L268.95 390.01L261.95 390.01Z" fill="#0b0b0b"/>
<path d="M274.57 383.41L278.07 390.01L271.07 390.01Z" fill="#0b0b0b"/>
<path d="M269.47 394.67L272.97 401.27L265.97 401.27Z" fill="#0b0b0b"/>
<path d="M265.45 400.04L268.95 406.64L261.95 406.64Z" fill="#0b0b0b"/>
<path d="M274.57 405.41L278.07 412.01L271.07 412.01Z" fill="#0b0b0b"/>
<path d="M269.47 418.29L272.97 424.89L265.97 424.89Z" fill="#0b0b0b"/>
<text x="198.4" y="315.61" font-family="Liberation Sans, sans-serif" font-size="11.14" font-weight="bold" text-anchor="middle" letter-spacing="0.4">*</text>
<text x="269.2" y="344.31" font-family="Liberation Sans, sans-serif" font-size="11.14" font-weight="bold" text-anchor="middle" letter-spacing="0.4">**</text>
<circle cx="178.8" cy="259.3" r="2.9" fill="#0b0b0b"/>
<text x="194.3" y="263.35" font-size="12.28" stroke="#0b0b0b" stroke-width="0.22">Vehicle</text>
<rect x="175.9" y="272.8" width="5.8" height="5.8" fill="#0b0b0b"/>
<text x="194.3" y="279.75" font-size="12.28" stroke="#0b0b0b" stroke-width="0.22">BR103354 20 mg/kg</text>
<path d="M178.8 288.28L182.1 294.68L175.5 294.68Z" fill="#0b0b0b"/>
<text x="194.3" y="295.85" font-size="12.28" stroke="#0b0b0b" stroke-width="0.22">BR103354 50 mg/kg</text>
<line x1="418.4" y1="263.9" x2="418.4" y2="432.2" stroke="#1c1c1c" stroke-width="1.35" stroke-linecap="butt"/>
<line x1="417.7" y1="431.5" x2="669.7" y2="431.5" stroke="#1c1c1c" stroke-width="1.35" stroke-linecap="butt"/>
<line x1="413.1" y1="431.5" x2="418.1" y2="431.5" stroke="#1c1c1c" stroke-width="1.35" stroke-linecap="butt"/>
<text x="411.1" y="435.66" font-size="12.6" font-weight="bold" text-anchor="end">0</text>
<line x1="413.1" y1="398.12" x2="418.1" y2="398.12" stroke="#1c1c1c" stroke-width="1.35" stroke-linecap="butt"/>
<text x="411.1" y="402.28" font-size="12.6" font-weight="bold" text-anchor="end">100</text>
<line x1="413.1" y1="364.74" x2="418.1" y2="364.74" stroke="#1c1c1c" stroke-width="1.35" stroke-linecap="butt"/>
<text x="411.1" y="368.9" font-size="12.6" font-weight="bold" text-anchor="end">200</text>
<line x1="413.1" y1="331.36" x2="418.1" y2="331.36" stroke="#1c1c1c" stroke-width="1.35" stroke-linecap="butt"/>
<text x="411.1" y="335.52" font-size="12.6" font-weight="bold" text-anchor="end">300</text>
<line x1="413.1" y1="297.98" x2="418.1" y2="297.98" stroke="#1c1c1c" stroke-width="1.35" stroke-linecap="butt"/>
<text x="411.1" y="302.14" font-size="12.6" font-weight="bold" text-anchor="end">400</text>
<line x1="413.1" y1="264.6" x2="418.1" y2="264.6" stroke="#1c1c1c" stroke-width="1.35" stroke-linecap="butt"/>
<text x="411.1" y="268.76" font-size="12.6" font-weight="bold" text-anchor="end">500</text>
<line x1="418.1" y1="431.5" x2="418.1" y2="436.1" stroke="#1c1c1c" stroke-width="1.35" stroke-linecap="butt"/>
<text x="418.1" y="448.86" font-size="12.6" font-weight="bold" text-anchor="middle">0</text>
<line x1="480.82" y1="431.5" x2="480.82" y2="436.1" stroke="#1c1c1c" stroke-width="1.35" stroke-linecap="butt"/>
<text x="480.82" y="448.86" font-size="12.6" font-weight="bold" text-anchor="middle">30</text>
<line x1="543.55" y1="431.5" x2="543.55" y2="436.1" stroke="#1c1c1c" stroke-width="1.35" stroke-linecap="butt"/>
<text x="543.55" y="448.86" font-size="12.6" font-weight="bold" text-anchor="middle">60</text>
<line x1="606.27" y1="431.5" x2="606.27" y2="436.1" stroke="#1c1c1c" stroke-width="1.35" stroke-linecap="butt"/>
<text x="606.27" y="448.86" font-size="12.6" font-weight="bold" text-anchor="middle">90</text>
<line x1="669" y1="431.5" x2="669" y2="436.1" stroke="#1c1c1c" stroke-width="1.35" stroke-linecap="butt"/>
<text x="669" y="448.86" font-size="12.6" font-weight="bold" text-anchor="middle">120</text>
<text x="544.1" y="468.02" font-size="14.3" font-weight="bold" text-anchor="middle">Time (min)</text>
<text transform="translate(379.6 347) rotate(-90)" x="0" y="4.72" font-size="14.3" font-weight="bold" text-anchor="middle" textLength="144" lengthAdjust="spacing">Blood glucose &#160;(mg/dL)</text>
<polyline points="418.1,377 449.46,301.4 480.82,295.8 543.55,336.4 669,371.5" fill="none" stroke="#0b0b0b" stroke-width="1.9" stroke-linejoin="round"/>
<line x1="418.1" y1="374" x2="418.1" y2="380" stroke="#0b0b0b" stroke-width="1.9" stroke-linecap="butt"/>
<line x1="414.6" y1="374" x2="421.6" y2="374" stroke="#0b0b0b" stroke-width="1.9" stroke-linecap="butt"/>
<line x1="414.6" y1="380" x2="421.6" y2="380" stroke="#0b0b0b" stroke-width="1.9" stroke-linecap="butt"/>
<circle cx="418.1" cy="377" r="3.7" fill="#0b0b0b"/>
<line x1="449.46" y1="291.9" x2="449.46" y2="310.9" stroke="#0b0b0b" stroke-width="1.9" stroke-linecap="butt"/>
<line x1="445.96" y1="291.9" x2="452.96" y2="291.9" stroke="#0b0b0b" stroke-width="1.9" stroke-linecap="butt"/>
<line x1="445.96" y1="310.9" x2="452.96" y2="310.9" stroke="#0b0b0b" stroke-width="1.9" stroke-linecap="butt"/>
<circle cx="449.46" cy="301.4" r="3.7" fill="#0b0b0b"/>
<line x1="480.82" y1="285.3" x2="480.82" y2="306.3" stroke="#0b0b0b" stroke-width="1.9" stroke-linecap="butt"/>
<line x1="477.32" y1="285.3" x2="484.32" y2="285.3" stroke="#0b0b0b" stroke-width="1.9" stroke-linecap="butt"/>
<line x1="477.32" y1="306.3" x2="484.32" y2="306.3" stroke="#0b0b0b" stroke-width="1.9" stroke-linecap="butt"/>
<circle cx="480.82" cy="295.8" r="3.7" fill="#0b0b0b"/>
<line x1="543.55" y1="328.4" x2="543.55" y2="344.4" stroke="#0b0b0b" stroke-width="1.9" stroke-linecap="butt"/>
<line x1="540.05" y1="328.4" x2="547.05" y2="328.4" stroke="#0b0b0b" stroke-width="1.9" stroke-linecap="butt"/>
<line x1="540.05" y1="344.4" x2="547.05" y2="344.4" stroke="#0b0b0b" stroke-width="1.9" stroke-linecap="butt"/>
<circle cx="543.55" cy="336.4" r="3.7" fill="#0b0b0b"/>
<line x1="669" y1="367" x2="669" y2="376" stroke="#0b0b0b" stroke-width="1.9" stroke-linecap="butt"/>
<line x1="665.5" y1="367" x2="672.5" y2="367" stroke="#0b0b0b" stroke-width="1.9" stroke-linecap="butt"/>
<line x1="665.5" y1="376" x2="672.5" y2="376" stroke="#0b0b0b" stroke-width="1.9" stroke-linecap="butt"/>
<circle cx="669" cy="371.5" r="3.7" fill="#0b0b0b"/>
<polyline points="418.1,389.7 449.46,321 480.82,305.6 543.55,340.6 669,378.5" fill="none" stroke="#0b0b0b" stroke-width="1.9" stroke-linejoin="round"/>
<line x1="418.1" y1="386.2" x2="418.1" y2="393.2" stroke="#0b0b0b" stroke-width="1.9" stroke-linecap="butt"/>
<line x1="414.6" y1="386.2" x2="421.6" y2="386.2" stroke="#0b0b0b" stroke-width="1.9" stroke-linecap="butt"/>
<line x1="414.6" y1="393.2" x2="421.6" y2="393.2" stroke="#0b0b0b" stroke-width="1.9" stroke-linecap="butt"/>
<rect x="414.4" y="386" width="7.4" height="7.4" fill="#0b0b0b"/>
<line x1="449.46" y1="313" x2="449.46" y2="329" stroke="#0b0b0b" stroke-width="1.9" stroke-linecap="butt"/>
<line x1="445.96" y1="313" x2="452.96" y2="313" stroke="#0b0b0b" stroke-width="1.9" stroke-linecap="butt"/>
<line x1="445.96" y1="329" x2="452.96" y2="329" stroke="#0b0b0b" stroke-width="1.9" stroke-linecap="butt"/>
<rect x="445.76" y="317.3" width="7.4" height="7.4" fill="#0b0b0b"/>
<line x1="480.82" y1="296.6" x2="480.82" y2="314.6" stroke="#0b0b0b" stroke-width="1.9" stroke-linecap="butt"/>
<line x1="477.32" y1="296.6" x2="484.32" y2="296.6" stroke="#0b0b0b" stroke-width="1.9" stroke-linecap="butt"/>
<line x1="477.32" y1="314.6" x2="484.32" y2="314.6" stroke="#0b0b0b" stroke-width="1.9" stroke-linecap="butt"/>
<rect x="477.12" y="301.9" width="7.4" height="7.4" fill="#0b0b0b"/>
<line x1="543.55" y1="332.6" x2="543.55" y2="348.6" stroke="#0b0b0b" stroke-width="1.9" stroke-linecap="butt"/>
<line x1="540.05" y1="332.6" x2="547.05" y2="332.6" stroke="#0b0b0b" stroke-width="1.9" stroke-linecap="butt"/>
<line x1="540.05" y1="348.6" x2="547.05" y2="348.6" stroke="#0b0b0b" stroke-width="1.9" stroke-linecap="butt"/>
<rect x="539.85" y="336.9" width="7.4" height="7.4" fill="#0b0b0b"/>
<line x1="669" y1="373.5" x2="669" y2="383.5" stroke="#0b0b0b" stroke-width="1.9" stroke-linecap="butt"/>
<line x1="665.5" y1="373.5" x2="672.5" y2="373.5" stroke="#0b0b0b" stroke-width="1.9" stroke-linecap="butt"/>
<line x1="665.5" y1="383.5" x2="672.5" y2="383.5" stroke="#0b0b0b" stroke-width="1.9" stroke-linecap="butt"/>
<rect x="665.3" y="374.8" width="7.4" height="7.4" fill="#0b0b0b"/>
<polyline points="418.1,378.5 449.46,325.2 480.82,321.9 543.55,357.5 669,384" fill="none" stroke="#0b0b0b" stroke-width="1.9" stroke-linejoin="round"/>
<line x1="418.1" y1="375.5" x2="418.1" y2="381.5" stroke="#0b0b0b" stroke-width="1.9" stroke-linecap="butt"/>
<line x1="414.6" y1="375.5" x2="421.6" y2="375.5" stroke="#0b0b0b" stroke-width="1.9" stroke-linecap="butt"/>
<line x1="414.6" y1="381.5" x2="421.6" y2="381.5" stroke="#0b0b0b" stroke-width="1.9" stroke-linecap="butt"/>
<path d="M418.1 374.43L422.2 381.83L414 381.83Z" fill="#0b0b0b"/>
<line x1="449.46" y1="319.2" x2="449.46" y2="331.2" stroke="#0b0b0b" stroke-width="1.9" stroke-linecap="butt"/>
<line x1="445.96" y1="319.2" x2="452.96" y2="319.2" stroke="#0b0b0b" stroke-width="1.9" stroke-linecap="butt"/>
<line x1="445.96" y1="331.2" x2="452.96" y2="331.2" stroke="#0b0b0b" stroke-width="1.9" stroke-linecap="butt"/>
<path d="M449.46 321.13L453.56 328.53L445.36 328.53Z" fill="#0b0b0b"/>
<line x1="480.82" y1="318.7" x2="480.82" y2="325.1" stroke="#0b0b0b" stroke-width="1.9" stroke-linecap="butt"/>
<line x1="477.32" y1="318.7" x2="484.32" y2="318.7" stroke="#0b0b0b" stroke-width="1.9" stroke-linecap="butt"/>
<line x1="477.32" y1="325.1" x2="484.32" y2="325.1" stroke="#0b0b0b" stroke-width="1.9" stroke-linecap="butt"/>
<path d="M480.82 317.83L484.92 325.23L476.72 325.23Z" fill="#0b0b0b"/>
<line x1="543.55" y1="352.5" x2="543.55" y2="362.5" stroke="#0b0b0b" stroke-width="1.9" stroke-linecap="butt"/>
<line x1="540.05" y1="352.5" x2="547.05" y2="352.5" stroke="#0b0b0b" stroke-width="1.9" stroke-linecap="butt"/>
<line x1="540.05" y1="362.5" x2="547.05" y2="362.5" stroke="#0b0b0b" stroke-width="1.9" stroke-linecap="butt"/>
<path d="M543.55 353.43L547.65 360.83L539.45 360.83Z" fill="#0b0b0b"/>
<line x1="669" y1="380" x2="669" y2="388" stroke="#0b0b0b" stroke-width="1.9" stroke-linecap="butt"/>
<line x1="665.5" y1="380" x2="672.5" y2="380" stroke="#0b0b0b" stroke-width="1.9" stroke-linecap="butt"/>
<line x1="665.5" y1="388" x2="672.5" y2="388" stroke="#0b0b0b" stroke-width="1.9" stroke-linecap="butt"/>
<path d="M669 379.93L673.1 387.33L664.9 387.33Z" fill="#0b0b0b"/>
<line x1="522.6" y1="264.2" x2="539.8" y2="264.2" stroke="#0b0b0b" stroke-width="1.9" stroke-linecap="butt"/>
<circle cx="531.2" cy="264.2" r="3.62" fill="#0b0b0b"/>
<text x="550.3" y="268.9" font-size="14.26" stroke="#0b0b0b" stroke-width="0.22">Vehicle</text>
<line x1="522.6" y1="283.2" x2="539.8" y2="283.2" stroke="#0b0b0b" stroke-width="1.9" stroke-linecap="butt"/>
<rect x="527.58" y="279.57" width="7.25" height="7.25" fill="#0b0b0b"/>
<text x="550.3" y="287.9" font-size="14.26" stroke="#0b0b0b" stroke-width="0.22">BR103354 20 mg/kg</text>
<line x1="522.6" y1="302.8" x2="539.8" y2="302.8" stroke="#0b0b0b" stroke-width="1.9" stroke-linecap="butt"/>
<path d="M531.2 298.4L535.33 306.4L527.08 306.4Z" fill="#0b0b0b"/>
<text x="550.3" y="307.5" font-size="14.26" stroke="#0b0b0b" stroke-width="0.22">BR103354 50 mg/kg</text>
<line x1="447.2" y1="365.3" x2="447.2" y2="424.6" stroke="#0b0b0b" stroke-width="1.1" stroke-linecap="butt"/>
<line x1="446.7" y1="424.1" x2="535.4" y2="424.1" stroke="#0b0b0b" stroke-width="1.1" stroke-linecap="butt"/>
<line x1="445.6" y1="424.1" x2="447.2" y2="424.1" stroke="#0b0b0b" stroke-width="0.6" stroke-linecap="butt"/>
<text x="445" y="425.39" font-size="3.9" font-weight="bold" text-anchor="end" opacity="0.85">0</text>
<line x1="445.6" y1="409.4" x2="447.2" y2="409.4" stroke="#0b0b0b" stroke-width="0.6" stroke-linecap="butt"/>
<text x="445" y="410.69" font-size="3.9" font-weight="bold" text-anchor="end" opacity="0.85">500</text>
<line x1="445.6" y1="394.7" x2="447.2" y2="394.7" stroke="#0b0b0b" stroke-width="0.6" stroke-linecap="butt"/>
<text x="445" y="395.99" font-size="3.9" font-weight="bold" text-anchor="end" opacity="0.85">1000</text>
<line x1="445.6" y1="380" x2="447.2" y2="380" stroke="#0b0b0b" stroke-width="0.6" stroke-linecap="butt"/>
<text x="445" y="381.29" font-size="3.9" font-weight="bold" text-anchor="end" opacity="0.85">1500</text>
<line x1="445.6" y1="365.3" x2="447.2" y2="365.3" stroke="#0b0b0b" stroke-width="0.6" stroke-linecap="butt"/>
<text x="445" y="366.59" font-size="3.9" font-weight="bold" text-anchor="end" opacity="0.85">2000</text>
<text transform="translate(432.2 395) rotate(-90)" x="0" y="1.19" font-size="3.6" font-weight="bold" text-anchor="middle" opacity="0.85">AUC</text>
<line x1="462.3" y1="370.6" x2="462.3" y2="375" stroke="#0b0b0b" stroke-width="1" stroke-linecap="butt"/>
<line x1="458.7" y1="370.6" x2="465.9" y2="370.6" stroke="#0b0b0b" stroke-width="1" stroke-linecap="butt"/>
<line x1="458.7" y1="375" x2="465.9" y2="375" stroke="#0b0b0b" stroke-width="1" stroke-linecap="butt"/>
<line x1="491.7" y1="374.8" x2="491.7" y2="380" stroke="#0b0b0b" stroke-width="1" stroke-linecap="butt"/>
<line x1="488.1" y1="374.8" x2="495.3" y2="374.8" stroke="#0b0b0b" stroke-width="1" stroke-linecap="butt"/>
<line x1="488.1" y1="380" x2="495.3" y2="380" stroke="#0b0b0b" stroke-width="1" stroke-linecap="butt"/>
<line x1="521.1" y1="382.7" x2="521.1" y2="385" stroke="#0b0b0b" stroke-width="1" stroke-linecap="butt"/>
<line x1="517.5" y1="382.7" x2="524.7" y2="382.7" stroke="#0b0b0b" stroke-width="1" stroke-linecap="butt"/>
<line x1="517.5" y1="385" x2="524.7" y2="385" stroke="#0b0b0b" stroke-width="1" stroke-linecap="butt"/>
<rect x="452.2" y="373.7" width="20.2" height="50.4" fill="#000"/>
<rect x="481.7" y="378.5" width="20.1" height="45.6" fill="#a8a8a8"/>
<rect x="511" y="384" width="20.2" height="40.1" fill="#808080"/>
<rect x="476" y="350.8" width="6.2" height="3.2" fill="#000"/>
<text x="484.8" y="354.05" font-size="5" opacity="0.62">Vehicle</text>
<rect x="476" y="357.1" width="6.2" height="3.2" fill="#a8a8a8"/>
<text x="484.8" y="360.35" font-size="5" opacity="0.62">BR103354 20 mg/kg</text>
<rect x="476" y="363.7" width="6.2" height="3.2" fill="#808080"/>
<text x="484.8" y="366.95" font-size="5" opacity="0.62">BR103354 50 mg/kg</text>
<text x="520" y="377.42" font-size="4" text-anchor="middle" opacity="0.7">*</text>
<line x1="29.1" y1="529.4" x2="29.1" y2="660" stroke="#3d3d3d" stroke-width="1.35" stroke-linecap="butt"/>
<line x1="28.5" y1="659.4" x2="202.3" y2="659.4" stroke="#3d3d3d" stroke-width="1.35" stroke-linecap="butt"/>
<line x1="25.3" y1="659.4" x2="29.1" y2="659.4" stroke="#3d3d3d" stroke-width="1.2" stroke-linecap="butt"/>
<text x="24.3" y="662.14" font-size="7.4" font-weight="bold" text-anchor="end" textLength="8.8" lengthAdjust="spacingAndGlyphs">45</text>
<line x1="25.3" y1="616.23" x2="29.1" y2="616.23" stroke="#3d3d3d" stroke-width="1.2" stroke-linecap="butt"/>
<text x="24.3" y="618.98" font-size="7.4" font-weight="bold" text-anchor="end" textLength="8.8" lengthAdjust="spacingAndGlyphs">50</text>
<line x1="25.3" y1="573.07" x2="29.1" y2="573.07" stroke="#3d3d3d" stroke-width="1.2" stroke-linecap="butt"/>
<text x="24.3" y="575.81" font-size="7.4" font-weight="bold" text-anchor="end" textLength="8.8" lengthAdjust="spacingAndGlyphs">55</text>
<line x1="25.3" y1="529.9" x2="29.1" y2="529.9" stroke="#3d3d3d" stroke-width="1.2" stroke-linecap="butt"/>
<text x="24.3" y="532.64" font-size="7.4" font-weight="bold" text-anchor="end" textLength="8.8" lengthAdjust="spacingAndGlyphs">60</text>
<text x="115" y="513" font-size="10.9" font-weight="bold" text-anchor="middle">Body</text>
<text transform="translate(5.7 594.6) rotate(-90)" x="0" y="2.84" font-size="8.6" font-weight="bold" text-anchor="middle" textLength="54" lengthAdjust="spacingAndGlyphs">Weight &#160;(g)</text>
<path d="M38.6 659.4V573.2H76.4V659.4" fill="none" stroke="#0b0b0b" stroke-width="2"/>
<path d="M95.9 659.4V594.2H133.8V659.4" fill="none" stroke="#979797" stroke-width="1.6"/>
<path d="M153.6 659.4V592.7H192V659.4" fill="none" stroke="#979797" stroke-width="1.6"/>
<line x1="57.6" y1="555.3" x2="57.6" y2="591.2" stroke="#0b0b0b" stroke-width="1.6" stroke-linecap="butt"/>
<line x1="47.6" y1="555.3" x2="67.6" y2="555.3" stroke="#0b0b0b" stroke-width="1.6" stroke-linecap="butt"/>
<line x1="47.6" y1="591.2" x2="67.6" y2="591.2" stroke="#0b0b0b" stroke-width="1.6" stroke-linecap="butt"/>
<line x1="115" y1="574.3" x2="115" y2="613.5" stroke="#0b0b0b" stroke-width="1.6" stroke-linecap="butt"/>
<line x1="105" y1="574.3" x2="125" y2="574.3" stroke="#0b0b0b" stroke-width="1.6" stroke-linecap="butt"/>
<line x1="105" y1="613.5" x2="125" y2="613.5" stroke="#0b0b0b" stroke-width="1.6" stroke-linecap="butt"/>
<line x1="172.6" y1="572.8" x2="172.6" y2="612" stroke="#0b0b0b" stroke-width="1.6" stroke-linecap="butt"/>
<line x1="162.6" y1="572.8" x2="182.6" y2="572.8" stroke="#0b0b0b" stroke-width="1.6" stroke-linecap="butt"/>
<line x1="162.6" y1="612" x2="182.6" y2="612" stroke="#0b0b0b" stroke-width="1.6" stroke-linecap="butt"/>
<circle cx="54.17" cy="547.2" r="3.05" fill="#0b0b0b"/>
<circle cx="61.13" cy="550.88" r="3.05" fill="#0b0b0b"/>
<circle cx="46.94" cy="559.42" r="3.05" fill="#0b0b0b"/>
<circle cx="61.13" cy="561.39" r="3.05" fill="#0b0b0b"/>
<circle cx="67.96" cy="559.42" r="3.05" fill="#0b0b0b"/>
<circle cx="54.17" cy="564.68" r="3.05" fill="#0b0b0b"/>
<circle cx="57.71" cy="573.22" r="3.05" fill="#0b0b0b"/>
<circle cx="61.13" cy="581.5" r="3.05" fill="#0b0b0b"/>
<circle cx="54.17" cy="584.39" r="3.05" fill="#0b0b0b"/>
<circle cx="64.68" cy="586.1" r="3.05" fill="#0b0b0b"/>
<circle cx="50.62" cy="588.99" r="3.05" fill="#0b0b0b"/>
<circle cx="57.71" cy="593.59" r="3.05" fill="#0b0b0b"/>
<circle cx="57.71" cy="605.41" r="3.05" fill="#0b0b0b"/>
<rect x="101.72" y="567.84" width="5.8" height="5.8" fill="#0b0b0b"/>
<rect x="122.74" y="566.61" width="5.8" height="5.8" fill="#0b0b0b"/>
<rect x="109.25" y="573.62" width="5.8" height="5.8" fill="#0b0b0b"/>
<rect x="115.39" y="569.59" width="5.8" height="5.8" fill="#0b0b0b"/>
<rect x="109.08" y="583.43" width="5.8" height="5.8" fill="#0b0b0b"/>
<rect x="104.88" y="588.16" width="5.8" height="5.8" fill="#0b0b0b"/>
<rect x="115.04" y="588.16" width="5.8" height="5.8" fill="#0b0b0b"/>
<rect x="119.24" y="589.91" width="5.8" height="5.8" fill="#0b0b0b"/>
<rect x="111.88" y="595.52" width="5.8" height="5.8" fill="#0b0b0b"/>
<rect x="108.38" y="610.76" width="5.8" height="5.8" fill="#0b0b0b"/>
<rect x="119.24" y="613.04" width="5.8" height="5.8" fill="#0b0b0b"/>
<rect x="115.39" y="617.94" width="5.8" height="5.8" fill="#0b0b0b"/>
<rect x="108.73" y="623.55" width="5.8" height="5.8" fill="#0b0b0b"/>
<path d="M179.6 560.5L182.9 566.7L176.3 566.7Z" fill="#0b0b0b"/>
<path d="M165.59 567.68L168.89 573.88L162.29 573.88Z" fill="#0b0b0b"/>
<path d="M172.6 567.5L175.9 573.7L169.3 573.7Z" fill="#0b0b0b"/>
<path d="M176.1 572.94L179.4 579.14L172.8 579.14Z" fill="#0b0b0b"/>
<path d="M169.09 578.54L172.39 584.74L165.79 584.74Z" fill="#0b0b0b"/>
<path d="M169.09 587.65L172.39 593.85L165.79 593.85Z" fill="#0b0b0b"/>
<path d="M176.1 587.65L179.4 593.85L172.8 593.85Z" fill="#0b0b0b"/>
<path d="M165.59 597.81L168.89 604.01L162.29 604.01Z" fill="#0b0b0b"/>
<path d="M179.6 600.27L182.9 606.47L176.3 606.47Z" fill="#0b0b0b"/>
<path d="M172.6 603.42L175.9 609.62L169.3 609.62Z" fill="#0b0b0b"/>
<path d="M169.09 608.67L172.39 614.87L165.79 614.87Z" fill="#0b0b0b"/>
<path d="M176.1 613.05L179.4 619.25L172.8 619.25Z" fill="#0b0b0b"/>
<path d="M172.6 621.81L175.9 628.01L169.3 628.01Z" fill="#0b0b0b"/>
<text x="114" y="553.04" font-family="Liberation Sans, sans-serif" font-size="9.98" font-weight="bold" text-anchor="middle" letter-spacing="0.4">*</text>
<text x="172.3" y="550.04" font-family="Liberation Sans, sans-serif" font-size="9.98" font-weight="bold" text-anchor="middle" letter-spacing="0.4">*</text>
<line x1="235" y1="528.9" x2="235" y2="659.8" stroke="#3d3d3d" stroke-width="1.35" stroke-linecap="butt"/>
<line x1="234.4" y1="659.2" x2="412" y2="659.2" stroke="#3d3d3d" stroke-width="1.35" stroke-linecap="butt"/>
<line x1="231.2" y1="659.2" x2="235" y2="659.2" stroke="#3d3d3d" stroke-width="1.2" stroke-linecap="butt"/>
<text x="230.2" y="661.94" font-size="7.4" font-weight="bold" text-anchor="end" textLength="4.4" lengthAdjust="spacingAndGlyphs">0</text>
<line x1="231.2" y1="633.24" x2="235" y2="633.24" stroke="#3d3d3d" stroke-width="1.2" stroke-linecap="butt"/>
<text x="230.2" y="635.98" font-size="7.4" font-weight="bold" text-anchor="end" textLength="4.4" lengthAdjust="spacingAndGlyphs">1</text>
<line x1="231.2" y1="607.28" x2="235" y2="607.28" stroke="#3d3d3d" stroke-width="1.2" stroke-linecap="butt"/>
<text x="230.2" y="610.02" font-size="7.4" font-weight="bold" text-anchor="end" textLength="4.4" lengthAdjust="spacingAndGlyphs">2</text>
<line x1="231.2" y1="581.32" x2="235" y2="581.32" stroke="#3d3d3d" stroke-width="1.2" stroke-linecap="butt"/>
<text x="230.2" y="584.06" font-size="7.4" font-weight="bold" text-anchor="end" textLength="4.4" lengthAdjust="spacingAndGlyphs">3</text>
<line x1="231.2" y1="555.36" x2="235" y2="555.36" stroke="#3d3d3d" stroke-width="1.2" stroke-linecap="butt"/>
<text x="230.2" y="558.1" font-size="7.4" font-weight="bold" text-anchor="end" textLength="4.4" lengthAdjust="spacingAndGlyphs">4</text>
<line x1="231.2" y1="529.4" x2="235" y2="529.4" stroke="#3d3d3d" stroke-width="1.2" stroke-linecap="butt"/>
<text x="230.2" y="532.14" font-size="7.4" font-weight="bold" text-anchor="end" textLength="4.4" lengthAdjust="spacingAndGlyphs">5</text>
<text x="323" y="513" font-size="10.9" font-weight="bold" text-anchor="middle">Liver</text>
<text transform="translate(215.4 594.6) rotate(-90)" x="0" y="2.84" font-size="8.6" font-weight="bold" text-anchor="middle" textLength="53" lengthAdjust="spacingAndGlyphs">Weight (g)</text>
<path d="M244.2 659.2V572.2H283.9V659.2" fill="none" stroke="#cdcdcd" stroke-width="1.6"/>
<path d="M303.4 659.2V582H342.8V659.2" fill="none" stroke="#979797" stroke-width="1.6"/>
<path d="M362.6 659.2V582.6H401V659.2" fill="none" stroke="#8c8c8c" stroke-width="1.6"/>
<line x1="263.2" y1="563.6" x2="263.2" y2="579.8" stroke="#0b0b0b" stroke-width="1.6" stroke-linecap="butt"/>
<line x1="253.7" y1="563.6" x2="272.7" y2="563.6" stroke="#0b0b0b" stroke-width="1.6" stroke-linecap="butt"/>
<line x1="253.7" y1="579.8" x2="272.7" y2="579.8" stroke="#0b0b0b" stroke-width="1.6" stroke-linecap="butt"/>
<line x1="323" y1="573.4" x2="323" y2="588.7" stroke="#0b0b0b" stroke-width="1.6" stroke-linecap="butt"/>
<line x1="313.5" y1="573.4" x2="332.5" y2="573.4" stroke="#0b0b0b" stroke-width="1.6" stroke-linecap="butt"/>
<line x1="313.5" y1="588.7" x2="332.5" y2="588.7" stroke="#0b0b0b" stroke-width="1.6" stroke-linecap="butt"/>
<line x1="381.9" y1="572.8" x2="381.9" y2="592.7" stroke="#0b0b0b" stroke-width="1.6" stroke-linecap="butt"/>
<line x1="371.9" y1="572.8" x2="391.9" y2="572.8" stroke="#0b0b0b" stroke-width="1.6" stroke-linecap="butt"/>
<line x1="371.9" y1="592.7" x2="391.9" y2="592.7" stroke="#0b0b0b" stroke-width="1.6" stroke-linecap="butt"/>
<circle cx="257.12" cy="558.06" r="2.84" fill="#0b0b0b"/>
<circle cx="264.78" cy="562.65" r="2.84" fill="#0b0b0b"/>
<circle cx="270.91" cy="560.51" r="2.84" fill="#0b0b0b"/>
<circle cx="254.05" cy="565.72" r="2.84" fill="#0b0b0b"/>
<circle cx="261.71" cy="571.24" r="2.84" fill="#0b0b0b"/>
<circle cx="269.38" cy="570.32" r="2.84" fill="#0b0b0b"/>
<circle cx="275.51" cy="571.24" r="2.84" fill="#0b0b0b"/>
<circle cx="247.92" cy="575.84" r="2.84" fill="#0b0b0b"/>
<circle cx="254.97" cy="578.9" r="2.84" fill="#0b0b0b"/>
<circle cx="266.31" cy="577.37" r="2.84" fill="#0b0b0b"/>
<circle cx="279.19" cy="577.37" r="2.84" fill="#0b0b0b"/>
<circle cx="270.91" cy="581.05" r="2.84" fill="#0b0b0b"/>
<circle cx="260.18" cy="584.11" r="2.84" fill="#0b0b0b"/>
<rect x="306.53" y="567.93" width="5.39" height="5.39" fill="#0b0b0b"/>
<rect x="313.28" y="570.69" width="5.39" height="5.39" fill="#0b0b0b"/>
<rect x="320.33" y="570.69" width="5.39" height="5.39" fill="#0b0b0b"/>
<rect x="327.07" y="570.69" width="5.39" height="5.39" fill="#0b0b0b"/>
<rect x="334.74" y="570.69" width="5.39" height="5.39" fill="#0b0b0b"/>
<rect x="309.6" y="578.35" width="5.39" height="5.39" fill="#0b0b0b"/>
<rect x="317.26" y="579.27" width="5.39" height="5.39" fill="#0b0b0b"/>
<rect x="323.39" y="581.42" width="5.39" height="5.39" fill="#0b0b0b"/>
<rect x="330.45" y="579.27" width="5.39" height="5.39" fill="#0b0b0b"/>
<rect x="313.28" y="586.02" width="5.39" height="5.39" fill="#0b0b0b"/>
<rect x="320.33" y="588.47" width="5.39" height="5.39" fill="#0b0b0b"/>
<rect x="327.07" y="586.02" width="5.39" height="5.39" fill="#0b0b0b"/>
<rect x="320.33" y="604.72" width="5.39" height="5.39" fill="#0b0b0b"/>
<path d="M367.48 565L370.55 570.77L364.41 570.77Z" fill="#0b0b0b"/>
<path d="M395.68 565L398.75 570.77L392.61 570.77Z" fill="#0b0b0b"/>
<path d="M388.32 568.07L391.39 573.83L385.25 573.83Z" fill="#0b0b0b"/>
<path d="M374.53 571.13L377.6 576.9L371.46 576.9Z" fill="#0b0b0b"/>
<path d="M381.27 572.67L384.34 578.43L378.2 578.43Z" fill="#0b0b0b"/>
<path d="M364.41 583.4L367.48 589.16L361.34 589.16Z" fill="#0b0b0b"/>
<path d="M398.75 583.4L401.82 589.16L395.68 589.16Z" fill="#0b0b0b"/>
<path d="M370.54 586.46L373.61 592.23L367.47 592.23Z" fill="#0b0b0b"/>
<path d="M392 586.46L395.07 592.23L388.93 592.23Z" fill="#0b0b0b"/>
<path d="M374.53 589.53L377.6 595.29L371.46 595.29Z" fill="#0b0b0b"/>
<path d="M384.34 589.53L387.41 595.29L381.27 595.29Z" fill="#0b0b0b"/>
<path d="M388.94 589.53L392.01 595.29L385.87 595.29Z" fill="#0b0b0b"/>
<path d="M378.82 591.98L381.89 597.74L375.75 597.74Z" fill="#0b0b0b"/>
<text x="322" y="559.04" font-family="Liberation Sans, sans-serif" font-size="9.98" font-weight="bold" text-anchor="middle" letter-spacing="0.4">**</text>
<text x="380.7" y="556.84" font-family="Liberation Sans, sans-serif" font-size="9.98" font-weight="bold" text-anchor="middle" letter-spacing="0.4">*</text>
<line x1="451.1" y1="527.8" x2="451.1" y2="659.1" stroke="#3d3d3d" stroke-width="1.35" stroke-linecap="butt"/>
<line x1="450.5" y1="658.5" x2="627.8" y2="658.5" stroke="#3d3d3d" stroke-width="1.35" stroke-linecap="butt"/>
<line x1="447.3" y1="658.5" x2="451.1" y2="658.5" stroke="#3d3d3d" stroke-width="1.2" stroke-linecap="butt"/>
<text x="446.3" y="661.24" font-size="7.4" font-weight="bold" text-anchor="end" textLength="11.8" lengthAdjust="spacingAndGlyphs">2.5</text>
<line x1="447.3" y1="632.46" x2="451.1" y2="632.46" stroke="#3d3d3d" stroke-width="1.2" stroke-linecap="butt"/>
<text x="446.3" y="635.2" font-size="7.4" font-weight="bold" text-anchor="end" textLength="11.8" lengthAdjust="spacingAndGlyphs">3.0</text>
<line x1="447.3" y1="606.42" x2="451.1" y2="606.42" stroke="#3d3d3d" stroke-width="1.2" stroke-linecap="butt"/>
<text x="446.3" y="609.16" font-size="7.4" font-weight="bold" text-anchor="end" textLength="11.8" lengthAdjust="spacingAndGlyphs">3.5</text>
<line x1="447.3" y1="580.38" x2="451.1" y2="580.38" stroke="#3d3d3d" stroke-width="1.2" stroke-linecap="butt"/>
<text x="446.3" y="583.12" font-size="7.4" font-weight="bold" text-anchor="end" textLength="11.8" lengthAdjust="spacingAndGlyphs">4.0</text>
<line x1="447.3" y1="554.34" x2="451.1" y2="554.34" stroke="#3d3d3d" stroke-width="1.2" stroke-linecap="butt"/>
<text x="446.3" y="557.08" font-size="7.4" font-weight="bold" text-anchor="end" textLength="11.8" lengthAdjust="spacingAndGlyphs">4.5</text>
<line x1="447.3" y1="528.3" x2="451.1" y2="528.3" stroke="#3d3d3d" stroke-width="1.2" stroke-linecap="butt"/>
<text x="446.3" y="531.04" font-size="7.4" font-weight="bold" text-anchor="end" textLength="11.8" lengthAdjust="spacingAndGlyphs">5.0</text>
<text x="538.4" y="512.1" font-size="11.5" font-weight="bold" text-anchor="middle">eWAT</text>
<text transform="translate(422.5 592.1) rotate(-90)" x="0" y="2.84" font-size="8.6" font-weight="bold" text-anchor="middle" textLength="54" lengthAdjust="spacingAndGlyphs">Weight &#160;(g)</text>
<path d="M460.7 658.5V585.7H499.8V658.5" fill="none" stroke="#3c3c3c" stroke-width="1.4"/>
<path d="M519.8 658.5V595.2H557.9V658.5" fill="none" stroke="#979797" stroke-width="1.4"/>
<path d="M577.7 658.5V601.5H617V658.5" fill="none" stroke="#979797" stroke-width="1.4"/>
<line x1="480.4" y1="566.7" x2="480.4" y2="605.6" stroke="#0b0b0b" stroke-width="1.5" stroke-linecap="butt"/>
<line x1="470.9" y1="566.7" x2="489.9" y2="566.7" stroke="#0b0b0b" stroke-width="1.5" stroke-linecap="butt"/>
<line x1="470.9" y1="605.6" x2="489.9" y2="605.6" stroke="#0b0b0b" stroke-width="1.5" stroke-linecap="butt"/>
<line x1="539" y1="575.6" x2="539" y2="612.2" stroke="#0b0b0b" stroke-width="1.5" stroke-linecap="butt"/>
<line x1="529.5" y1="575.6" x2="548.5" y2="575.6" stroke="#0b0b0b" stroke-width="1.5" stroke-linecap="butt"/>
<line x1="529.5" y1="612.2" x2="548.5" y2="612.2" stroke="#0b0b0b" stroke-width="1.5" stroke-linecap="butt"/>
<line x1="597.6" y1="584" x2="597.6" y2="619.2" stroke="#0b0b0b" stroke-width="1.5" stroke-linecap="butt"/>
<line x1="588.1" y1="584" x2="607.1" y2="584" stroke="#0b0b0b" stroke-width="1.5" stroke-linecap="butt"/>
<line x1="588.1" y1="619.2" x2="607.1" y2="619.2" stroke="#0b0b0b" stroke-width="1.5" stroke-linecap="butt"/>
<circle cx="473.65" cy="559.45" r="2.62" fill="#0b0b0b"/>
<circle cx="479.69" cy="559.45" r="2.62" fill="#0b0b0b"/>
<circle cx="485.73" cy="559.45" r="2.62" fill="#0b0b0b"/>
<circle cx="469.71" cy="579.94" r="2.62" fill="#0b0b0b"/>
<circle cx="491.25" cy="579.94" r="2.62" fill="#0b0b0b"/>
<circle cx="479.95" cy="574.95" r="2.62" fill="#0b0b0b"/>
<circle cx="476.27" cy="585.73" r="2.62" fill="#0b0b0b"/>
<circle cx="484.16" cy="585.73" r="2.62" fill="#0b0b0b"/>
<circle cx="479.95" cy="600.96" r="2.62" fill="#0b0b0b"/>
<circle cx="469.97" cy="606.22" r="2.62" fill="#0b0b0b"/>
<circle cx="490.99" cy="606.22" r="2.62" fill="#0b0b0b"/>
<circle cx="476.27" cy="611.47" r="2.62" fill="#0b0b0b"/>
<circle cx="483.63" cy="611.47" r="2.62" fill="#0b0b0b"/>
<rect x="536.31" y="561.42" width="4.99" height="4.99" fill="#0b0b0b"/>
<rect x="529.74" y="567.47" width="4.99" height="4.99" fill="#0b0b0b"/>
<rect x="543.67" y="567.47" width="4.99" height="4.99" fill="#0b0b0b"/>
<rect x="536.31" y="573.51" width="4.99" height="4.99" fill="#0b0b0b"/>
<rect x="536.31" y="583.23" width="4.99" height="4.99" fill="#0b0b0b"/>
<rect x="533.16" y="598.47" width="4.99" height="4.99" fill="#0b0b0b"/>
<rect x="539.47" y="598.47" width="4.99" height="4.99" fill="#0b0b0b"/>
<rect x="520.55" y="608.98" width="4.99" height="4.99" fill="#0b0b0b"/>
<rect x="526.33" y="608.98" width="4.99" height="4.99" fill="#0b0b0b"/>
<rect x="539.99" y="608.98" width="4.99" height="4.99" fill="#0b0b0b"/>
<rect x="546.3" y="608.98" width="4.99" height="4.99" fill="#0b0b0b"/>
<rect x="552.6" y="608.98" width="4.99" height="4.99" fill="#0b0b0b"/>
<rect x="533.16" y="614.76" width="4.99" height="4.99" fill="#0b0b0b"/>
<path d="M594.51 572.81L597.35 578.14L591.67 578.14Z" fill="#0b0b0b"/>
<path d="M601.6 572.81L604.44 578.14L598.76 578.14Z" fill="#0b0b0b"/>
<path d="M591.36 582.79L594.19 588.12L588.52 588.12Z" fill="#0b0b0b"/>
<path d="M605.02 582.79L607.86 588.12L602.18 588.12Z" fill="#0b0b0b"/>
<path d="M597.92 588.84L600.76 594.17L595.09 594.17Z" fill="#0b0b0b"/>
<path d="M597.92 598.03L600.76 603.36L595.09 603.36Z" fill="#0b0b0b"/>
<path d="M587.15 603.81L589.99 609.14L584.31 609.14Z" fill="#0b0b0b"/>
<path d="M593.98 609.33L596.82 614.66L591.15 614.66Z" fill="#0b0b0b"/>
<path d="M601.6 609.33L604.44 614.66L598.76 614.66Z" fill="#0b0b0b"/>
<path d="M608.43 609.33L611.27 614.66L605.6 614.66Z" fill="#0b0b0b"/>
<path d="M591.36 618.53L594.19 623.86L588.52 623.86Z" fill="#0b0b0b"/>
<path d="M605.02 618.53L607.86 623.86L602.18 623.86Z" fill="#0b0b0b"/>
<path d="M597.92 625.09L600.76 630.43L595.09 630.43Z" fill="#0b0b0b"/>
<circle cx="586.5" cy="526.3" r="2.44" fill="#0b0b0b"/>
<text x="598.3" y="529.68" font-size="10.25" stroke="#0b0b0b" stroke-width="0.22">Vehicle</text>
<rect x="584.06" y="538.46" width="4.87" height="4.87" fill="#0b0b0b"/>
<text x="598.3" y="544.28" font-size="10.25" stroke="#0b0b0b" stroke-width="0.22">BR103354 20 mg/kg</text>
<path d="M586.5 552.64L589.27 558.02L583.73 558.02Z" fill="#0b0b0b"/>
<text x="598.3" y="558.98" font-size="10.25" stroke="#0b0b0b" stroke-width="0.22">BR103354 50 mg/kg</text>
<line x1="32.9" y1="722" x2="32.9" y2="852.6" stroke="#3d3d3d" stroke-width="1.35" stroke-linecap="butt"/>
<line x1="32.3" y1="852" x2="202.3" y2="852" stroke="#3d3d3d" stroke-width="1.35" stroke-linecap="butt"/>
<line x1="29.1" y1="852" x2="32.9" y2="852" stroke="#3d3d3d" stroke-width="1.2" stroke-linecap="butt"/>
<text x="28.1" y="854.74" font-size="7.4" font-weight="bold" text-anchor="end" textLength="4.4" lengthAdjust="spacingAndGlyphs">0</text>
<line x1="29.1" y1="808.83" x2="32.9" y2="808.83" stroke="#3d3d3d" stroke-width="1.2" stroke-linecap="butt"/>
<text x="28.1" y="811.58" font-size="7.4" font-weight="bold" text-anchor="end" textLength="13.2" lengthAdjust="spacingAndGlyphs">100</text>
<line x1="29.1" y1="765.67" x2="32.9" y2="765.67" stroke="#3d3d3d" stroke-width="1.2" stroke-linecap="butt"/>
<text x="28.1" y="768.41" font-size="7.4" font-weight="bold" text-anchor="end" textLength="13.2" lengthAdjust="spacingAndGlyphs">200</text>
<line x1="29.1" y1="722.5" x2="32.9" y2="722.5" stroke="#3d3d3d" stroke-width="1.2" stroke-linecap="butt"/>
<text x="28.1" y="725.24" font-size="7.4" font-weight="bold" text-anchor="end" textLength="13.2" lengthAdjust="spacingAndGlyphs">300</text>
<text x="116.5" y="706.2" font-size="10.9" font-weight="bold" text-anchor="middle">Fasting blood glucose</text>
<text transform="translate(5.7 786.6) rotate(-90)" x="0" y="2.84" font-size="8.6" font-weight="bold" text-anchor="middle" textLength="111" lengthAdjust="spacingAndGlyphs">Blood glucose &#160;(mg/dL)</text>
<path d="M42.1 852V767.9H80.2V852" fill="none" stroke="#0b0b0b" stroke-width="2"/>
<path d="M98.4 852V784.4H136.2V852" fill="none" stroke="#979797" stroke-width="1.6"/>
<path d="M154.5 852V803.8H192.3V852" fill="none" stroke="#979797" stroke-width="1.6"/>
<line x1="60.7" y1="748.6" x2="60.7" y2="787.8" stroke="#0b0b0b" stroke-width="1.6" stroke-linecap="butt"/>
<line x1="50.7" y1="748.6" x2="70.7" y2="748.6" stroke="#0b0b0b" stroke-width="1.6" stroke-linecap="butt"/>
<line x1="50.7" y1="787.8" x2="70.7" y2="787.8" stroke="#0b0b0b" stroke-width="1.6" stroke-linecap="butt"/>
<line x1="117.1" y1="767" x2="117.1" y2="801.3" stroke="#0b0b0b" stroke-width="1.6" stroke-linecap="butt"/>
<line x1="107.4" y1="767" x2="126.8" y2="767" stroke="#0b0b0b" stroke-width="1.6" stroke-linecap="butt"/>
<line x1="107.4" y1="801.3" x2="126.8" y2="801.3" stroke="#0b0b0b" stroke-width="1.6" stroke-linecap="butt"/>
<line x1="173.8" y1="797.6" x2="173.8" y2="809.9" stroke="#0b0b0b" stroke-width="1.6" stroke-linecap="butt"/>
<line x1="163.8" y1="797.6" x2="183.8" y2="797.6" stroke="#0b0b0b" stroke-width="1.6" stroke-linecap="butt"/>
<line x1="163.8" y1="809.9" x2="183.8" y2="809.9" stroke="#0b0b0b" stroke-width="1.6" stroke-linecap="butt"/>
<circle cx="58.54" cy="742.37" r="3.05" fill="#0b0b0b"/>
<circle cx="61.02" cy="740.38" r="3.05" fill="#0b0b0b"/>
<circle cx="67.72" cy="749.07" r="3.05" fill="#0b0b0b"/>
<circle cx="64" cy="753.54" r="3.05" fill="#0b0b0b"/>
<circle cx="54.32" cy="757.75" r="3.05" fill="#0b0b0b"/>
<circle cx="57.79" cy="764.21" r="3.05" fill="#0b0b0b"/>
<circle cx="67.22" cy="770.16" r="3.05" fill="#0b0b0b"/>
<circle cx="64" cy="772.15" r="3.05" fill="#0b0b0b"/>
<circle cx="57.79" cy="780.09" r="3.05" fill="#0b0b0b"/>
<circle cx="67.22" cy="783.31" r="3.05" fill="#0b0b0b"/>
<circle cx="54.32" cy="785.79" r="3.05" fill="#0b0b0b"/>
<circle cx="60.52" cy="790.01" r="3.05" fill="#0b0b0b"/>
<circle cx="60.52" cy="802.42" r="3.05" fill="#0b0b0b"/>
<rect x="120.9" y="759.82" width="5.8" height="5.8" fill="#0b0b0b"/>
<rect x="104.02" y="763.04" width="5.8" height="5.8" fill="#0b0b0b"/>
<rect x="107.75" y="768.5" width="5.8" height="5.8" fill="#0b0b0b"/>
<rect x="114.44" y="767.26" width="5.8" height="5.8" fill="#0b0b0b"/>
<rect x="120.9" y="774.95" width="5.8" height="5.8" fill="#0b0b0b"/>
<rect x="104.02" y="780.41" width="5.8" height="5.8" fill="#0b0b0b"/>
<rect x="110.72" y="781.65" width="5.8" height="5.8" fill="#0b0b0b"/>
<rect x="113.95" y="774.95" width="5.8" height="5.8" fill="#0b0b0b"/>
<rect x="123.87" y="781.16" width="5.8" height="5.8" fill="#0b0b0b"/>
<rect x="117.17" y="786.12" width="5.8" height="5.8" fill="#0b0b0b"/>
<rect x="107.25" y="806.96" width="5.8" height="5.8" fill="#0b0b0b"/>
<rect x="120.65" y="806.96" width="5.8" height="5.8" fill="#0b0b0b"/>
<rect x="113.95" y="809.44" width="5.8" height="5.8" fill="#0b0b0b"/>
<path d="M176.9 788.59L180.2 794.79L173.6 794.79Z" fill="#0b0b0b"/>
<path d="M157.79 795.54L161.09 801.74L154.49 801.74Z" fill="#0b0b0b"/>
<path d="M170.2 794.05L173.5 800.25L166.9 800.25Z" fill="#0b0b0b"/>
<path d="M182.61 796.03L185.91 802.23L179.31 802.23Z" fill="#0b0b0b"/>
<path d="M188.81 797.27L192.11 803.47L185.51 803.47Z" fill="#0b0b0b"/>
<path d="M164 799.01L167.3 805.21L160.7 805.21Z" fill="#0b0b0b"/>
<path d="M178.88 800.99L182.18 807.19L175.58 807.19Z" fill="#0b0b0b"/>
<path d="M171.44 801.49L174.74 807.69L168.14 807.69Z" fill="#0b0b0b"/>
<path d="M159.53 802.73L162.83 808.93L156.23 808.93Z" fill="#0b0b0b"/>
<path d="M186.33 803.48L189.63 809.68L183.03 809.68Z" fill="#0b0b0b"/>
<path d="M167.22 805.21L170.52 811.41L163.92 811.41Z" fill="#0b0b0b"/>
<path d="M179.63 805.21L182.93 811.41L176.33 811.41Z" fill="#0b0b0b"/>
<path d="M173.18 809.68L176.48 815.88L169.88 815.88Z" fill="#0b0b0b"/>
<text x="115.6" y="751.04" font-family="Liberation Sans, sans-serif" font-size="9.98" font-weight="bold" text-anchor="middle" letter-spacing="0.4">**</text>
<text x="172.3" y="778.04" font-family="Liberation Sans, sans-serif" font-size="9.98" font-weight="bold" text-anchor="middle" letter-spacing="0.4">***</text>
<line x1="237.8" y1="721.4" x2="237.8" y2="852.8" stroke="#3d3d3d" stroke-width="1.35" stroke-linecap="butt"/>
<line x1="237.2" y1="852.2" x2="412" y2="852.2" stroke="#3d3d3d" stroke-width="1.35" stroke-linecap="butt"/>
<line x1="234" y1="852.2" x2="237.8" y2="852.2" stroke="#3d3d3d" stroke-width="1.2" stroke-linecap="butt"/>
<text x="233" y="854.94" font-size="7.4" font-weight="bold" text-anchor="end" textLength="4.4" lengthAdjust="spacingAndGlyphs">0</text>
<line x1="234" y1="826.14" x2="237.8" y2="826.14" stroke="#3d3d3d" stroke-width="1.2" stroke-linecap="butt"/>
<text x="233" y="828.88" font-size="7.4" font-weight="bold" text-anchor="end" textLength="4.4" lengthAdjust="spacingAndGlyphs">5</text>
<line x1="234" y1="800.08" x2="237.8" y2="800.08" stroke="#3d3d3d" stroke-width="1.2" stroke-linecap="butt"/>
<text x="233" y="802.82" font-size="7.4" font-weight="bold" text-anchor="end" textLength="8.8" lengthAdjust="spacingAndGlyphs">10</text>
<line x1="234" y1="774.02" x2="237.8" y2="774.02" stroke="#3d3d3d" stroke-width="1.2" stroke-linecap="butt"/>
<text x="233" y="776.76" font-size="7.4" font-weight="bold" text-anchor="end" textLength="8.8" lengthAdjust="spacingAndGlyphs">15</text>
<line x1="234" y1="747.96" x2="237.8" y2="747.96" stroke="#3d3d3d" stroke-width="1.2" stroke-linecap="butt"/>
<text x="233" y="750.7" font-size="7.4" font-weight="bold" text-anchor="end" textLength="8.8" lengthAdjust="spacingAndGlyphs">20</text>
<line x1="234" y1="721.9" x2="237.8" y2="721.9" stroke="#3d3d3d" stroke-width="1.2" stroke-linecap="butt"/>
<text x="233" y="724.64" font-size="7.4" font-weight="bold" text-anchor="end" textLength="8.8" lengthAdjust="spacingAndGlyphs">25</text>
<text x="323.6" y="705.8" font-size="10.9" font-weight="bold" text-anchor="middle">Insulin</text>
<text transform="translate(214.5 786.6) rotate(-90)" x="0" y="2.84" font-size="8.6" font-weight="bold" text-anchor="middle" textLength="96" lengthAdjust="spacingAndGlyphs">Insulin con. &#160;(ng/dL)</text>
<path d="M247.6 852.2V763.3H286V852.2" fill="none" stroke="#cdcdcd" stroke-width="1.6"/>
<path d="M304.3 852.2V821.2H343.4V852.2" fill="none" stroke="#979797" stroke-width="1.6"/>
<path d="M362.6 852.2V819.1H401V852.2" fill="none" stroke="#8c8c8c" stroke-width="1.6"/>
<line x1="266.3" y1="740" x2="266.3" y2="786.9" stroke="#0b0b0b" stroke-width="1.6" stroke-linecap="butt"/>
<line x1="256.8" y1="740" x2="275.8" y2="740" stroke="#0b0b0b" stroke-width="1.6" stroke-linecap="butt"/>
<line x1="256.8" y1="786.9" x2="275.8" y2="786.9" stroke="#0b0b0b" stroke-width="1.6" stroke-linecap="butt"/>
<line x1="323.6" y1="807.7" x2="323.6" y2="834.4" stroke="#0b0b0b" stroke-width="1.6" stroke-linecap="butt"/>
<line x1="314.1" y1="807.7" x2="333.1" y2="807.7" stroke="#0b0b0b" stroke-width="1.6" stroke-linecap="butt"/>
<line x1="314.1" y1="834.4" x2="333.1" y2="834.4" stroke="#0b0b0b" stroke-width="1.6" stroke-linecap="butt"/>
<line x1="381.9" y1="798.5" x2="381.9" y2="840" stroke="#0b0b0b" stroke-width="1.6" stroke-linecap="butt"/>
<line x1="372.4" y1="798.5" x2="391.4" y2="798.5" stroke="#0b0b0b" stroke-width="1.6" stroke-linecap="butt"/>
<line x1="372.4" y1="840" x2="391.4" y2="840" stroke="#0b0b0b" stroke-width="1.6" stroke-linecap="butt"/>
<circle cx="266.31" cy="729.57" r="2.84" fill="#0b0b0b"/>
<circle cx="277.04" cy="735.39" r="2.84" fill="#0b0b0b"/>
<circle cx="255.58" cy="740.91" r="2.84" fill="#0b0b0b"/>
<circle cx="262.63" cy="743.06" r="2.84" fill="#0b0b0b"/>
<circle cx="270.91" cy="743.06" r="2.84" fill="#0b0b0b"/>
<circle cx="266.31" cy="758.38" r="2.84" fill="#0b0b0b"/>
<circle cx="262.63" cy="771.57" r="2.84" fill="#0b0b0b"/>
<circle cx="269.38" cy="772.49" r="2.84" fill="#0b0b0b"/>
<circle cx="273.06" cy="774.63" r="2.84" fill="#0b0b0b"/>
<circle cx="259.57" cy="779.23" r="2.84" fill="#0b0b0b"/>
<circle cx="266.31" cy="782.3" r="2.84" fill="#0b0b0b"/>
<circle cx="269.38" cy="794.56" r="2.84" fill="#0b0b0b"/>
<circle cx="262.63" cy="800.08" r="2.84" fill="#0b0b0b"/>
<rect x="320.94" y="793.39" width="5.39" height="5.39" fill="#0b0b0b"/>
<rect x="314.2" y="805.04" width="5.39" height="5.39" fill="#0b0b0b"/>
<rect x="327.99" y="805.04" width="5.39" height="5.39" fill="#0b0b0b"/>
<rect x="324.01" y="811.79" width="5.39" height="5.39" fill="#0b0b0b"/>
<rect x="314.2" y="814.85" width="5.39" height="5.39" fill="#0b0b0b"/>
<rect x="317.26" y="821.6" width="5.39" height="5.39" fill="#0b0b0b"/>
<rect x="324.01" y="825.58" width="5.39" height="5.39" fill="#0b0b0b"/>
<rect x="307.45" y="829.57" width="5.39" height="5.39" fill="#0b0b0b"/>
<rect x="334.74" y="829.57" width="5.39" height="5.39" fill="#0b0b0b"/>
<rect x="317.26" y="831.71" width="5.39" height="5.39" fill="#0b0b0b"/>
<rect x="327.99" y="834.78" width="5.39" height="5.39" fill="#0b0b0b"/>
<rect x="320.94" y="836.31" width="5.39" height="5.39" fill="#0b0b0b"/>
<rect x="313.28" y="834.78" width="5.39" height="5.39" fill="#0b0b0b"/>
<path d="M381.27 762.26L384.34 768.03L378.2 768.03Z" fill="#0b0b0b"/>
<path d="M374.53 804.57L377.6 810.34L371.46 810.34Z" fill="#0b0b0b"/>
<path d="M388.32 805.18L391.39 810.95L385.25 810.95Z" fill="#0b0b0b"/>
<path d="M381.27 795.99L384.34 801.75L378.2 801.75Z" fill="#0b0b0b"/>
<path d="M382.19 822.04L385.26 827.81L379.12 827.81Z" fill="#0b0b0b"/>
<path d="M365.94 830.32L369.01 836.09L362.88 836.09Z" fill="#0b0b0b"/>
<path d="M372.08 830.32L375.14 836.09L369.01 836.09Z" fill="#0b0b0b"/>
<path d="M378.21 830.32L381.28 836.09L375.14 836.09Z" fill="#0b0b0b"/>
<path d="M384.95 830.32L388.02 836.09L381.88 836.09Z" fill="#0b0b0b"/>
<path d="M391.39 830.32L394.46 836.09L388.32 836.09Z" fill="#0b0b0b"/>
<path d="M397.21 829.09L400.28 834.86L394.14 834.86Z" fill="#0b0b0b"/>
<path d="M382.19 811.31L385.26 817.08L379.12 817.08Z" fill="#0b0b0b"/>
<path d="M382.19 831.24L385.26 837.01L379.12 837.01Z" fill="#0b0b0b"/>
<text x="323" y="781.74" font-family="Liberation Sans, sans-serif" font-size="9.98" font-weight="bold" text-anchor="middle" letter-spacing="0.4">***</text>
<text x="380.7" y="753.54" font-family="Liberation Sans, sans-serif" font-size="9.98" font-weight="bold" text-anchor="middle" letter-spacing="0.4">***</text>
<line x1="449.7" y1="721.8" x2="449.7" y2="852.2" stroke="#3d3d3d" stroke-width="1.35" stroke-linecap="butt"/>
<line x1="449.1" y1="851.6" x2="631.8" y2="851.6" stroke="#3d3d3d" stroke-width="1.35" stroke-linecap="butt"/>
<line x1="445.9" y1="851.6" x2="449.7" y2="851.6" stroke="#3d3d3d" stroke-width="1.2" stroke-linecap="butt"/>
<text x="444.9" y="854.34" font-size="7.4" font-weight="bold" text-anchor="end" textLength="4.4" lengthAdjust="spacingAndGlyphs">0</text>
<line x1="445.9" y1="808.5" x2="449.7" y2="808.5" stroke="#3d3d3d" stroke-width="1.2" stroke-linecap="butt"/>
<text x="444.9" y="811.24" font-size="7.4" font-weight="bold" text-anchor="end" textLength="4.4" lengthAdjust="spacingAndGlyphs">5</text>
<line x1="445.9" y1="765.4" x2="449.7" y2="765.4" stroke="#3d3d3d" stroke-width="1.2" stroke-linecap="butt"/>
<text x="444.9" y="768.14" font-size="7.4" font-weight="bold" text-anchor="end" textLength="8.8" lengthAdjust="spacingAndGlyphs">10</text>
<line x1="445.9" y1="722.3" x2="449.7" y2="722.3" stroke="#3d3d3d" stroke-width="1.2" stroke-linecap="butt"/>
<text x="444.9" y="725.04" font-size="7.4" font-weight="bold" text-anchor="end" textLength="8.8" lengthAdjust="spacingAndGlyphs">15</text>
<text x="540" y="706.36" font-size="11.4" font-weight="bold" text-anchor="middle">HOMA-IR</text>
<text transform="translate(424.9 786.6) rotate(-90)" x="0" y="3.17" font-size="9.6" font-weight="bold" text-anchor="middle" textLength="47" lengthAdjust="spacingAndGlyphs">HOMA-IR</text>
<path d="M459.7 851.6V782H500.2V851.6" fill="none" stroke="#3c3c3c" stroke-width="1.4"/>
<path d="M519.8 851.6V832.7H559.8V851.6" fill="none" stroke="#979797" stroke-width="1.4"/>
<path d="M580.9 851.6V835.8H620.6V851.6" fill="none" stroke="#979797" stroke-width="1.4"/>
<line x1="480" y1="761.4" x2="480" y2="803.1" stroke="#0b0b0b" stroke-width="1.5" stroke-linecap="butt"/>
<line x1="470.5" y1="761.4" x2="489.5" y2="761.4" stroke="#0b0b0b" stroke-width="1.5" stroke-linecap="butt"/>
<line x1="470.5" y1="803.1" x2="489.5" y2="803.1" stroke="#0b0b0b" stroke-width="1.5" stroke-linecap="butt"/>
<line x1="539.2" y1="826" x2="539.2" y2="840.5" stroke="#0b0b0b" stroke-width="1.5" stroke-linecap="butt"/>
<line x1="530.2" y1="826" x2="548.2" y2="826" stroke="#0b0b0b" stroke-width="1.5" stroke-linecap="butt"/>
<line x1="530.2" y1="840.5" x2="548.2" y2="840.5" stroke="#0b0b0b" stroke-width="1.5" stroke-linecap="butt"/>
<line x1="600.3" y1="827.3" x2="600.3" y2="845.7" stroke="#0b0b0b" stroke-width="1.5" stroke-linecap="butt"/>
<line x1="590.8" y1="827.3" x2="609.8" y2="827.3" stroke="#0b0b0b" stroke-width="1.5" stroke-linecap="butt"/>
<line x1="590.8" y1="845.7" x2="609.8" y2="845.7" stroke="#0b0b0b" stroke-width="1.5" stroke-linecap="butt"/>
<circle cx="472.74" cy="753.86" r="2.62" fill="#0b0b0b"/>
<circle cx="480.51" cy="759.41" r="2.62" fill="#0b0b0b"/>
<circle cx="487.16" cy="758.58" r="2.62" fill="#0b0b0b"/>
<circle cx="479.67" cy="768.29" r="2.62" fill="#0b0b0b"/>
<circle cx="465.8" cy="776.05" r="2.62" fill="#0b0b0b"/>
<circle cx="494.38" cy="777.16" r="2.62" fill="#0b0b0b"/>
<circle cx="472.74" cy="779.38" r="2.62" fill="#0b0b0b"/>
<circle cx="486.61" cy="782.71" r="2.62" fill="#0b0b0b"/>
<circle cx="479.67" cy="783.54" r="2.62" fill="#0b0b0b"/>
<circle cx="477.73" cy="799.36" r="2.62" fill="#0b0b0b"/>
<circle cx="484.11" cy="800.74" r="2.62" fill="#0b0b0b"/>
<circle cx="476.07" cy="817.39" r="2.62" fill="#0b0b0b"/>
<circle cx="483.28" cy="816.28" r="2.62" fill="#0b0b0b"/>
<rect x="530.72" y="817.11" width="4.99" height="4.99" fill="#0b0b0b"/>
<rect x="538.21" y="821.27" width="4.99" height="4.99" fill="#0b0b0b"/>
<rect x="545.14" y="819.88" width="4.99" height="4.99" fill="#0b0b0b"/>
<rect x="534.05" y="827.37" width="4.99" height="4.99" fill="#0b0b0b"/>
<rect x="522.12" y="831.81" width="4.99" height="4.99" fill="#0b0b0b"/>
<rect x="527.67" y="833.75" width="4.99" height="4.99" fill="#0b0b0b"/>
<rect x="540.15" y="832.37" width="4.99" height="4.99" fill="#0b0b0b"/>
<rect x="549.3" y="833.75" width="4.99" height="4.99" fill="#0b0b0b"/>
<rect x="554.3" y="832.37" width="4.99" height="4.99" fill="#0b0b0b"/>
<rect x="531.27" y="836.53" width="4.99" height="4.99" fill="#0b0b0b"/>
<rect x="543.75" y="837.36" width="4.99" height="4.99" fill="#0b0b0b"/>
<rect x="536.82" y="840.69" width="4.99" height="4.99" fill="#0b0b0b"/>
<rect x="539.59" y="836.81" width="4.99" height="4.99" fill="#0b0b0b"/>
<path d="M600.89 812.51L603.73 817.84L598.06 817.84Z" fill="#0b0b0b"/>
<path d="M589.8 824.16L592.64 829.49L586.96 829.49Z" fill="#0b0b0b"/>
<path d="M600.34 826.94L603.18 832.27L597.5 832.27Z" fill="#0b0b0b"/>
<path d="M611.44 826.94L614.27 832.27L608.6 832.27Z" fill="#0b0b0b"/>
<path d="M597.01 830.54L599.85 835.87L594.17 835.87Z" fill="#0b0b0b"/>
<path d="M604.78 832.48L607.62 837.82L601.94 837.82Z" fill="#0b0b0b"/>
<path d="M582.86 839.7L585.7 845.03L580.03 845.03Z" fill="#0b0b0b"/>
<path d="M588.69 839.7L591.53 845.03L585.85 845.03Z" fill="#0b0b0b"/>
<path d="M594.79 839.7L597.63 845.03L591.95 845.03Z" fill="#0b0b0b"/>
<path d="M600.89 839.7L603.73 845.03L598.06 845.03Z" fill="#0b0b0b"/>
<path d="M606.72 839.7L609.56 845.03L603.88 845.03Z" fill="#0b0b0b"/>
<path d="M612.27 839.7L615.11 845.03L609.43 845.03Z" fill="#0b0b0b"/>
<path d="M617.54 839.7L620.38 845.03L614.7 845.03Z" fill="#0b0b0b"/>
<text x="538.4" y="807.04" font-family="Liberation Sans, sans-serif" font-size="9.98" font-weight="bold" text-anchor="middle" letter-spacing="0.4">***</text>
<text x="600.3" y="803.04" font-family="Liberation Sans, sans-serif" font-size="9.98" font-weight="bold" text-anchor="middle" letter-spacing="0.4">***</text>
<circle cx="583.7" cy="731" r="2.44" fill="#0b0b0b"/>
<text x="596.3" y="734.44" font-size="10.43" stroke="#0b0b0b" stroke-width="0.22">Vehicle</text>
<rect x="581.26" y="743.26" width="4.87" height="4.87" fill="#0b0b0b"/>
<text x="596.3" y="749.14" font-size="10.43" stroke="#0b0b0b" stroke-width="0.22">BR103354 20 mg/kg</text>
<path d="M583.7 757.24L586.47 762.62L580.93 762.62Z" fill="#0b0b0b"/>
<text x="596.3" y="763.64" font-size="10.43" stroke="#0b0b0b" stroke-width="0.22">BR103354 50 mg/kg</text>
</svg>
</body>
</html>
